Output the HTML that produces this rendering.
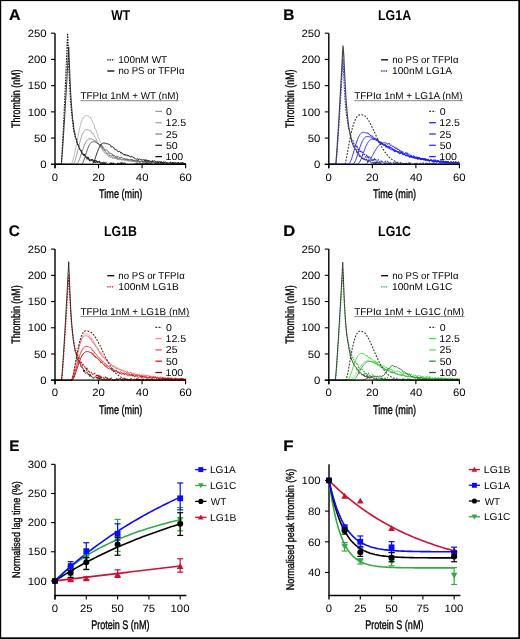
<!DOCTYPE html>
<html><head><meta charset="utf-8"><style>
html,body{margin:0;padding:0;background:#fff;}
svg{display:block;will-change:transform;}
text{font-family:"Liberation Sans", sans-serif;text-rendering:geometricPrecision;}
</style></head><body>
<svg width="520" height="639" viewBox="0 0 520 639" font-family="Liberation Sans, sans-serif">
<rect x="0" y="0" width="520" height="639" fill="#fff"/>
<text transform="translate(9.00,20.30) scale(1.0370,1)" font-size="15.4" font-weight="bold" fill="#000" stroke="#000" stroke-width="0.2">A</text>
<text transform="translate(111.20,20.30) scale(0.8569,1)" font-size="14.2" font-weight="bold" fill="#000">WT</text>
<polyline points="55.00,164.30 55.65,164.30 56.31,164.30 56.96,164.30 57.61,164.30 58.27,164.30 58.92,164.30 59.57,164.30 60.22,164.30 60.88,164.30 61.53,164.30 62.18,164.30 62.84,164.30 63.49,164.30 64.14,164.30 64.80,164.30 65.45,164.30 66.10,164.30 66.75,164.30 67.41,164.30 68.06,164.30 68.71,164.30 69.37,164.30 70.02,164.30 70.67,164.17 71.33,163.68 71.98,162.69 72.63,161.16 73.28,159.12 73.94,156.63 74.59,153.75 75.24,150.59 75.90,147.25 76.55,143.81 77.20,140.36 77.86,136.98 78.51,133.73 79.16,130.68 79.81,127.85 80.47,125.29 81.12,123.01 81.77,121.04 82.43,119.38 83.08,118.03 83.73,116.98 84.39,116.22 85.04,115.75 85.69,115.54 85.91,115.53 86.34,115.54 87.00,115.60 87.65,115.73 88.30,115.98 88.96,116.37 89.61,117.53 90.26,117.06 90.91,118.10 91.57,120.02 92.22,120.85 92.87,122.31 93.53,123.48 94.18,124.87 94.83,127.73 95.49,129.61 96.14,130.06 96.79,132.56 97.44,133.82 98.10,136.90 98.75,137.93 99.40,139.18 100.06,141.66 100.71,142.04 101.36,143.62 102.02,146.50 102.67,147.83 103.32,148.20 103.97,148.68 104.63,150.68 105.28,151.92 105.93,152.46 106.59,153.92 107.24,154.33 107.89,154.62 108.55,155.12 109.20,156.09 109.85,156.58 110.50,157.02 111.16,157.00 111.81,157.63 112.46,158.39 113.12,157.30 113.77,158.03 114.42,158.11 115.08,159.08 115.73,157.92 116.38,158.31 117.03,159.71 117.69,159.50 118.34,158.99 118.99,159.13 119.65,158.88 120.30,159.86 120.95,159.28 121.61,159.65 122.26,160.37 122.91,159.99 123.56,159.59 124.22,159.74 124.87,160.40 125.52,160.34 126.18,161.35 126.83,161.08 127.48,160.23 128.14,160.95 128.79,161.43 129.44,160.87 130.09,160.68 130.75,160.80 131.40,161.37 132.05,161.33 132.71,161.28 133.36,160.89 134.01,161.38 134.67,161.66 135.32,161.56 135.97,162.39 136.62,162.42 137.28,161.37 137.93,160.95 138.58,161.66 139.24,162.05 139.89,162.47 140.54,161.97 141.20,161.21 141.85,161.62 142.50,162.05 143.16,161.56 143.81,162.66 144.46,162.23 145.11,161.54 145.77,162.21 146.42,162.45 147.07,162.81 147.73,162.38 148.38,161.73 149.03,163.37 149.69,162.10 150.34,162.07 150.99,162.00 151.64,162.28 152.30,162.20 152.95,162.72 153.60,162.68 154.26,162.94 154.91,163.59 155.56,162.26 156.22,162.79 156.87,163.44 157.52,162.96 158.17,163.02 158.83,163.26 159.48,163.31 160.13,163.01 160.79,162.89 161.44,162.94 162.09,163.22 162.75,163.97 163.40,163.65 164.05,163.76 164.70,163.10 165.36,162.66 166.01,162.79 166.66,162.81 167.32,162.80 167.97,163.76 168.62,162.80 169.28,163.10 169.93,164.11 170.58,164.24 171.23,164.26 171.89,163.04 172.54,163.90 173.19,164.16 173.85,163.31 174.50,163.80 175.15,164.27 175.81,164.14 176.46,163.54 177.11,164.15 177.76,163.99 178.42,163.27 179.07,163.72 179.72,163.95 180.38,163.71 181.03,164.30 181.68,163.89 182.34,163.84 182.99,164.24 183.64,164.30 184.29,163.07 184.95,163.74 185.60,164.26" fill="none" stroke="#b0b0b0" stroke-width="0.9" stroke-linejoin="round" />
<polyline points="55.00,164.30 55.65,164.30 56.31,164.30 56.96,164.30 57.61,164.30 58.27,164.30 58.92,164.30 59.57,164.30 60.22,164.30 60.88,164.30 61.53,164.30 62.18,164.30 62.84,164.30 63.49,164.30 64.14,164.30 64.80,164.30 65.45,164.30 66.10,164.30 66.75,164.30 67.41,164.30 68.06,164.30 68.71,164.30 69.37,164.30 70.02,164.30 70.67,164.30 71.33,164.30 71.98,164.30 72.63,164.24 73.28,163.90 73.94,163.13 74.59,161.88 75.24,160.17 75.90,158.08 76.55,155.68 77.20,153.07 77.86,150.35 78.51,147.60 79.16,144.91 79.81,142.34 80.47,139.94 81.12,137.75 81.77,135.81 82.43,134.13 83.08,132.72 83.73,131.59 84.39,130.74 85.04,130.14 85.69,129.80 86.34,129.69 86.34,129.69 87.00,129.71 87.65,129.78 88.30,129.92 88.96,130.14 89.61,130.47 90.26,130.14 90.91,130.70 91.57,132.85 92.22,133.57 92.87,133.17 93.53,134.29 94.18,135.42 94.83,137.12 95.49,137.75 96.14,138.92 96.79,140.15 97.44,142.05 98.10,142.79 98.75,144.02 99.40,144.62 100.06,145.27 100.71,146.42 101.36,148.12 102.02,149.26 102.67,150.48 103.32,151.73 103.97,152.54 104.63,152.56 105.28,153.49 105.93,154.03 106.59,153.75 107.24,154.90 107.89,155.33 108.55,156.32 109.20,157.08 109.85,156.94 110.50,157.59 111.16,157.27 111.81,156.73 112.46,157.52 113.12,158.58 113.77,157.60 114.42,157.95 115.08,158.24 115.73,158.12 116.38,158.51 117.03,158.61 117.69,159.48 118.34,158.55 118.99,158.71 119.65,160.17 120.30,159.28 120.95,159.45 121.61,159.98 122.26,159.96 122.91,160.13 123.56,159.49 124.22,160.29 124.87,159.82 125.52,160.71 126.18,159.90 126.83,159.95 127.48,160.77 128.14,160.66 128.79,160.15 129.44,160.55 130.09,161.02 130.75,161.53 131.40,161.43 132.05,160.87 132.71,161.83 133.36,160.65 134.01,161.78 134.67,160.77 135.32,161.84 135.97,160.81 136.62,161.29 137.28,161.68 137.93,161.71 138.58,161.54 139.24,161.70 139.89,162.22 140.54,162.44 141.20,161.98 141.85,161.32 142.50,161.89 143.16,162.86 143.81,161.65 144.46,161.86 145.11,161.60 145.77,162.84 146.42,161.95 147.07,163.15 147.73,162.19 148.38,162.87 149.03,162.98 149.69,161.93 150.34,163.26 150.99,162.60 151.64,162.07 152.30,163.13 152.95,163.22 153.60,162.13 154.26,162.93 154.91,162.47 155.56,163.65 156.22,163.13 156.87,163.48 157.52,162.66 158.17,163.68 158.83,162.25 159.48,163.83 160.13,162.68 160.79,163.89 161.44,163.53 162.09,162.62 162.75,163.74 163.40,163.72 164.05,162.89 164.70,163.43 165.36,164.03 166.01,162.46 166.66,163.89 167.32,164.10 167.97,163.61 168.62,163.17 169.28,162.98 169.93,164.05 170.58,163.70 171.23,164.23 171.89,163.55 172.54,163.03 173.19,163.09 173.85,162.84 174.50,163.10 175.15,162.94 175.81,163.22 176.46,163.62 177.11,164.05 177.76,163.34 178.42,163.93 179.07,164.30 179.72,163.74 180.38,163.03 181.03,164.30 181.68,163.55 182.34,163.88 182.99,163.69 183.64,164.30 184.29,162.97 184.95,164.16 185.60,163.59" fill="none" stroke="#9a9a9a" stroke-width="0.9" stroke-linejoin="round" />
<polyline points="55.00,164.30 55.65,164.30 56.31,164.30 56.96,164.30 57.61,164.30 58.27,164.30 58.92,164.30 59.57,164.30 60.22,164.30 60.88,164.30 61.53,164.30 62.18,164.30 62.84,164.30 63.49,164.30 64.14,164.30 64.80,164.30 65.45,164.30 66.10,164.30 66.75,164.30 67.41,164.30 68.06,164.30 68.71,164.30 69.37,164.30 70.02,164.30 70.67,164.30 71.33,164.30 71.98,164.30 72.63,164.30 73.28,164.30 73.94,164.30 74.59,164.30 75.24,164.30 75.90,164.26 76.55,164.02 77.20,163.47 77.86,162.59 78.51,161.37 79.16,159.88 79.81,158.16 80.47,156.28 81.12,154.32 81.77,152.33 82.43,150.37 83.08,148.49 83.73,146.73 84.39,145.11 85.04,143.66 85.69,142.40 86.34,141.34 87.00,140.47 87.65,139.79 88.30,139.31 88.96,139.01 89.61,138.88 89.83,138.87 90.26,138.88 90.91,138.93 91.57,139.03 92.22,139.19 92.87,139.42 93.53,140.16 94.18,140.01 94.83,140.74 95.49,140.85 96.14,141.38 96.79,142.93 97.44,143.68 98.10,143.00 98.75,144.69 99.40,145.48 100.06,144.97 100.71,146.62 101.36,146.77 102.02,148.13 102.67,148.60 103.32,150.14 103.97,150.03 104.63,150.31 105.28,151.53 105.93,151.78 106.59,152.47 107.24,154.03 107.89,153.38 108.55,154.14 109.20,155.07 109.85,155.93 110.50,154.92 111.16,155.93 111.81,155.85 112.46,155.88 113.12,156.44 113.77,156.35 114.42,157.47 115.08,157.02 115.73,157.82 116.38,157.19 117.03,157.47 117.69,158.95 118.34,159.05 118.99,159.06 119.65,157.95 120.30,158.97 120.95,158.78 121.61,159.46 122.26,159.23 122.91,159.55 123.56,159.72 124.22,159.43 124.87,159.54 125.52,159.10 126.18,159.57 126.83,159.25 127.48,159.47 128.14,159.33 128.79,159.96 129.44,160.90 130.09,159.81 130.75,159.72 131.40,159.90 132.05,160.54 132.71,160.37 133.36,161.29 134.01,160.33 134.67,160.83 135.32,161.39 135.97,161.83 136.62,160.57 137.28,160.41 137.93,161.98 138.58,160.85 139.24,161.57 139.89,162.07 140.54,161.89 141.20,161.15 141.85,161.03 142.50,162.48 143.16,161.57 143.81,162.58 144.46,161.51 145.11,162.21 145.77,161.33 146.42,161.22 147.07,162.06 147.73,161.28 148.38,162.48 149.03,162.92 149.69,162.09 150.34,163.08 150.99,162.85 151.64,162.53 152.30,162.24 152.95,163.04 153.60,163.27 154.26,161.92 154.91,162.89 155.56,161.84 156.22,161.98 156.87,162.89 157.52,162.78 158.17,162.72 158.83,162.54 159.48,162.65 160.13,162.75 160.79,162.68 161.44,162.17 162.09,162.92 162.75,163.08 163.40,162.62 164.05,163.46 164.70,163.38 165.36,162.27 166.01,163.07 166.66,163.04 167.32,163.97 167.97,163.32 168.62,163.06 169.28,164.03 169.93,163.05 170.58,163.05 171.23,164.03 171.89,163.10 172.54,163.39 173.19,163.05 173.85,163.62 174.50,163.04 175.15,163.01 175.81,164.23 176.46,164.19 177.11,163.17 177.76,162.71 178.42,163.92 179.07,163.59 179.72,163.38 180.38,163.85 181.03,163.80 181.68,163.90 182.34,163.82 182.99,163.45 183.64,163.96 184.29,163.85 184.95,163.20 185.60,164.30" fill="none" stroke="#7a7a7a" stroke-width="0.9" stroke-linejoin="round" />
<polyline points="55.00,164.30 55.65,164.30 56.31,164.30 56.96,164.30 57.61,164.30 58.27,164.30 58.92,164.30 59.57,164.30 60.22,164.30 60.88,164.30 61.53,164.30 62.18,164.30 62.84,164.30 63.49,164.30 64.14,164.30 64.80,164.30 65.45,164.30 66.10,164.30 66.75,164.30 67.41,164.30 68.06,164.30 68.71,164.30 69.37,164.30 70.02,164.30 70.67,164.30 71.33,164.30 71.98,164.30 72.63,164.30 73.28,164.30 73.94,164.30 74.59,164.30 75.24,164.30 75.90,164.30 76.55,164.30 77.20,164.30 77.86,164.30 78.51,164.30 79.16,164.30 79.81,164.30 80.47,164.30 81.12,164.30 81.77,164.13 82.43,163.48 83.08,162.32 83.73,160.76 84.39,158.90 85.04,156.87 85.69,154.77 86.34,152.69 87.00,150.71 87.65,148.86 88.30,147.21 88.96,145.76 89.61,144.54 90.26,143.55 90.91,142.79 91.57,142.24 92.22,141.91 92.87,141.76 93.09,141.75 93.53,141.76 94.18,141.81 94.83,141.92 95.49,142.07 96.14,142.28 96.79,143.00 97.44,143.54 98.10,143.43 98.75,144.26 99.40,144.87 100.06,144.82 100.71,144.49 101.36,145.26 102.02,145.91 102.67,147.42 103.32,147.50 103.97,148.56 104.63,149.34 105.28,150.06 105.93,150.47 106.59,149.86 107.24,150.59 107.89,151.16 108.55,151.69 109.20,153.21 109.85,153.49 110.50,153.40 111.16,153.64 111.81,153.84 112.46,154.17 113.12,155.85 113.77,155.30 114.42,155.50 115.08,156.06 115.73,156.88 116.38,156.63 117.03,157.51 117.69,156.31 118.34,156.63 118.99,157.36 119.65,157.96 120.30,157.11 120.95,157.84 121.61,157.48 122.26,157.69 122.91,158.40 123.56,158.70 124.22,158.52 124.87,158.93 125.52,159.50 126.18,159.38 126.83,158.64 127.48,160.05 128.14,160.15 128.79,159.28 129.44,159.97 130.09,159.64 130.75,159.85 131.40,160.16 132.05,159.15 132.71,160.59 133.36,160.31 134.01,160.75 134.67,160.12 135.32,160.80 135.97,160.75 136.62,160.17 137.28,160.97 137.93,160.64 138.58,160.14 139.24,161.56 139.89,161.70 140.54,161.49 141.20,160.66 141.85,160.98 142.50,161.68 143.16,161.58 143.81,161.90 144.46,161.49 145.11,162.25 145.77,161.21 146.42,160.94 147.07,160.90 147.73,161.32 148.38,161.00 149.03,162.63 149.69,162.23 150.34,161.15 150.99,161.52 151.64,162.18 152.30,161.33 152.95,161.92 153.60,161.63 154.26,162.56 154.91,162.78 155.56,162.39 156.22,162.95 156.87,162.58 157.52,161.65 158.17,162.75 158.83,163.33 159.48,163.31 160.13,163.13 160.79,162.14 161.44,162.88 162.09,163.04 162.75,163.40 163.40,161.94 164.05,162.91 164.70,163.31 165.36,163.59 166.01,163.63 166.66,163.47 167.32,162.64 167.97,163.56 168.62,163.77 169.28,163.04 169.93,163.47 170.58,162.24 171.23,163.74 171.89,163.08 172.54,162.69 173.19,163.33 173.85,162.38 174.50,163.26 175.15,163.68 175.81,163.42 176.46,164.07 177.11,163.45 177.76,163.76 178.42,162.70 179.07,162.82 179.72,163.40 180.38,164.20 181.03,163.84 181.68,163.88 182.34,163.96 182.99,163.94 183.64,162.88 184.29,164.12 184.95,164.29 185.60,162.83" fill="none" stroke="#4a4a4a" stroke-width="0.9" stroke-linejoin="round" />
<polyline points="55.00,164.30 55.65,164.30 56.31,164.30 56.96,164.30 57.61,164.30 58.27,164.30 58.92,164.30 59.57,164.30 60.22,164.30 60.88,164.30 61.53,164.30 62.18,164.30 62.84,164.30 63.49,164.30 64.14,164.30 64.80,164.30 65.45,164.30 66.10,164.30 66.75,164.30 67.41,164.30 68.06,164.30 68.71,164.30 69.37,164.30 70.02,164.30 70.67,164.30 71.33,164.30 71.98,164.30 72.63,164.30 73.28,164.30 73.94,164.30 74.59,164.30 75.24,164.30 75.90,164.30 76.55,164.30 77.20,164.30 77.86,164.30 78.51,164.30 79.16,164.30 79.81,164.30 80.47,164.30 81.12,164.30 81.77,164.30 82.43,164.30 83.08,164.30 83.73,164.30 84.39,164.30 85.04,164.30 85.69,164.30 86.34,164.30 87.00,164.30 87.65,164.30 88.30,164.30 88.96,164.30 89.61,164.30 90.26,164.30 90.91,164.30 91.57,164.30 92.22,164.15 92.87,163.56 93.53,162.51 94.18,161.08 94.83,159.38 95.49,157.51 96.14,155.57 96.79,153.64 97.44,151.79 98.10,150.06 98.75,148.49 99.40,147.11 100.06,145.94 100.71,144.97 101.36,144.21 102.02,143.65 102.67,143.29 103.32,143.10 103.76,143.06 103.97,143.07 104.63,143.12 105.28,143.24 105.93,143.43 106.59,143.67 107.24,143.75 107.89,143.88 108.55,144.16 109.20,144.30 109.85,145.05 110.50,145.17 111.16,147.11 111.81,146.82 112.46,146.47 113.12,147.41 113.77,147.44 114.42,149.21 115.08,149.05 115.73,149.86 116.38,149.79 117.03,150.16 117.69,151.52 118.34,151.58 118.99,151.87 119.65,151.18 120.30,151.81 120.95,153.19 121.61,152.47 122.26,153.92 122.91,153.44 123.56,154.59 124.22,155.11 124.87,153.95 125.52,155.35 126.18,155.62 126.83,154.60 127.48,155.04 128.14,156.27 128.79,155.39 129.44,156.33 130.09,156.32 130.75,157.34 131.40,156.31 132.05,156.94 132.71,156.67 133.36,156.98 134.01,158.16 134.67,158.23 135.32,158.73 135.97,158.93 136.62,159.23 137.28,158.99 137.93,158.63 138.58,159.78 139.24,158.79 139.89,159.50 140.54,159.68 141.20,158.95 141.85,159.64 142.50,160.04 143.16,159.88 143.81,159.62 144.46,160.82 145.11,159.38 145.77,161.09 146.42,159.97 147.07,159.91 147.73,161.39 148.38,160.19 149.03,160.99 149.69,160.72 150.34,161.76 150.99,161.78 151.64,161.64 152.30,160.42 152.95,161.77 153.60,160.91 154.26,160.69 154.91,160.74 155.56,161.81 156.22,161.86 156.87,161.65 157.52,161.29 158.17,162.47 158.83,161.46 159.48,161.44 160.13,161.39 160.79,162.83 161.44,161.36 162.09,162.85 162.75,162.48 163.40,162.08 164.05,161.61 164.70,162.63 165.36,161.70 166.01,162.38 166.66,162.82 167.32,162.86 167.97,163.13 168.62,163.34 169.28,163.26 169.93,162.40 170.58,161.92 171.23,163.36 171.89,163.59 172.54,162.05 173.19,162.84 173.85,163.09 174.50,163.41 175.15,162.84 175.81,162.49 176.46,163.14 177.11,163.23 177.76,163.87 178.42,162.46 179.07,163.97 179.72,163.22 180.38,162.67 181.03,163.88 181.68,162.90 182.34,162.56 182.99,163.12 183.64,162.88 184.29,164.04 184.95,163.52 185.60,164.02" fill="none" stroke="#111" stroke-width="0.9" stroke-linejoin="round" />
<polyline points="55.00,164.30 55.65,164.30 56.31,164.30 56.96,164.30 57.61,164.30 58.27,164.30 58.92,164.30 59.57,164.30 60.22,164.30 60.88,164.30 61.53,161.57 62.18,150.87 62.84,138.73 63.49,125.77 64.14,112.19 64.80,98.14 65.45,83.69 66.10,68.88 66.75,53.77 67.41,38.39 67.62,33.20 68.06,43.38 68.71,63.19 69.37,79.27 70.02,92.00 70.67,102.13 71.33,109.35 71.98,115.86 72.63,122.36 73.28,127.58 73.94,132.21 74.59,133.38 75.24,136.78 75.90,138.32 76.55,141.68 77.20,142.34 77.86,145.62 78.51,145.49 79.16,147.11 79.81,149.36 80.47,150.13 81.12,150.73 81.77,153.24 82.43,152.99 83.08,153.02 83.73,155.48 84.39,154.49 85.04,155.50 85.69,155.60 86.34,157.76 87.00,159.03 87.65,157.28 88.30,157.71 88.96,159.25 89.61,160.73 90.26,160.76 90.91,159.71 91.57,161.09 92.22,159.29 92.87,160.69 93.53,162.15 94.18,160.95 94.83,162.08 95.49,160.47 96.14,160.72 96.79,162.13 97.44,161.88 98.10,161.85 98.75,161.64 99.40,161.23 100.06,164.30 100.71,163.38 101.36,162.72 102.02,163.75 102.67,162.94 103.32,164.30 103.97,162.17 104.63,163.36 105.28,164.30 105.93,163.05 106.59,164.20 107.24,164.30 107.89,163.76 108.55,164.30 109.20,164.30 109.85,162.68 110.50,163.24 111.16,164.30 111.81,163.05 112.46,164.30 113.12,164.30 113.77,162.73 114.42,163.64 115.08,164.30 115.73,164.30 116.38,164.30 117.03,164.30 117.69,162.53 118.34,164.30 118.99,164.30 119.65,163.37 120.30,164.30 120.95,162.65 121.61,164.30 122.26,162.68 122.91,162.96 123.56,163.67 124.22,162.98 124.87,164.30 125.52,163.18 126.18,163.30 126.83,164.18 127.48,164.30 128.14,163.59 128.79,164.30 129.44,164.30 130.09,163.48 130.75,164.30 131.40,164.30 132.05,163.37 132.71,164.30 133.36,164.30 134.01,164.30 134.67,163.99 135.32,164.30 135.97,164.30 136.62,164.30 137.28,162.93 137.93,164.30 138.58,164.30 139.24,163.09 139.89,163.93 140.54,164.30 141.20,164.30 141.85,164.30 142.50,164.30 143.16,164.30 143.81,164.30 144.46,163.33 145.11,164.30 145.77,163.79 146.42,162.81 147.07,162.96 147.73,164.30 148.38,163.97 149.03,164.30 149.69,164.30 150.34,164.30 150.99,163.37 151.64,162.92 152.30,164.30 152.95,164.30 153.60,164.30 154.26,164.30 154.91,164.30 155.56,163.44 156.22,164.30 156.87,163.61 157.52,164.30 158.17,162.92 158.83,163.19 159.48,164.30 160.13,164.30 160.79,162.89 161.44,163.94 162.09,164.30 162.75,163.41 163.40,163.31 164.05,164.30 164.70,164.30 165.36,164.30 166.01,164.30 166.66,164.30 167.32,163.90 167.97,163.96 168.62,164.30 169.28,163.90 169.93,164.30 170.58,164.30 171.23,163.84 171.89,164.30 172.54,163.04 173.19,163.89 173.85,163.67 174.50,164.30 175.15,163.25 175.81,164.30 176.46,163.93 177.11,163.01 177.76,163.02 178.42,163.06 179.07,164.30 179.72,163.69 180.38,163.38 181.03,164.30 181.68,162.90 182.34,163.01 182.99,164.30 183.64,163.42 184.29,164.30 184.95,164.30 185.60,163.63" fill="none" stroke="#111" stroke-width="1.1" stroke-linejoin="round" stroke-dasharray="1.6,1.1"/>
<polyline points="55.00,164.30 55.65,164.30 56.31,164.30 56.96,164.30 57.61,164.30 58.27,164.30 58.92,164.30 59.57,164.30 60.22,164.30 60.88,164.30 61.53,162.26 62.18,154.28 62.84,145.22 63.49,135.55 64.14,125.42 64.80,114.93 65.45,104.14 66.10,93.10 66.75,81.82 67.41,70.34 68.06,58.67 68.71,46.83 69.37,62.18 70.02,78.89 70.67,92.21 71.33,102.77 71.98,111.20 72.63,118.74 73.28,122.27 73.94,129.13 74.59,131.37 75.24,136.29 75.90,138.62 76.55,138.96 77.20,143.21 77.86,143.88 78.51,146.03 79.16,147.52 79.81,148.74 80.47,150.77 81.12,150.13 81.77,153.15 82.43,153.68 83.08,155.11 83.73,155.21 84.39,155.54 85.04,154.85 85.69,156.89 86.34,158.18 87.00,158.31 87.65,156.79 88.30,159.77 88.96,158.67 89.61,159.71 90.26,159.30 90.91,160.51 91.57,159.85 92.22,160.66 92.87,160.51 93.53,160.07 94.18,161.17 94.83,162.58 95.49,162.98 96.14,160.76 96.79,162.18 97.44,163.14 98.10,161.23 98.75,162.36 99.40,162.08 100.06,161.78 100.71,163.51 101.36,163.42 102.02,162.09 102.67,164.20 103.32,162.56 103.97,164.30 104.63,162.91 105.28,162.94 105.93,162.32 106.59,162.66 107.24,163.64 107.89,164.30 108.55,164.30 109.20,163.70 109.85,163.79 110.50,164.30 111.16,162.79 111.81,163.90 112.46,163.39 113.12,164.30 113.77,164.30 114.42,164.30 115.08,164.30 115.73,164.30 116.38,164.28 117.03,164.30 117.69,163.19 118.34,163.05 118.99,164.30 119.65,164.30 120.30,164.30 120.95,163.72 121.61,162.88 122.26,164.30 122.91,163.47 123.56,164.30 124.22,164.30 124.87,163.49 125.52,164.30 126.18,164.30 126.83,164.30 127.48,164.30 128.14,164.30 128.79,164.30 129.44,164.30 130.09,164.01 130.75,164.30 131.40,164.30 132.05,164.30 132.71,164.30 133.36,164.21 134.01,164.30 134.67,163.43 135.32,164.26 135.97,163.71 136.62,162.97 137.28,164.30 137.93,164.30 138.58,164.30 139.24,164.30 139.89,164.08 140.54,163.62 141.20,164.30 141.85,163.02 142.50,164.30 143.16,163.37 143.81,164.30 144.46,163.27 145.11,164.30 145.77,163.02 146.42,163.59 147.07,162.96 147.73,164.08 148.38,164.30 149.03,163.01 149.69,164.30 150.34,164.30 150.99,164.01 151.64,164.30 152.30,164.30 152.95,164.30 153.60,164.30 154.26,164.08 154.91,164.30 155.56,164.30 156.22,164.30 156.87,163.68 157.52,163.71 158.17,164.30 158.83,164.30 159.48,164.30 160.13,164.30 160.79,164.30 161.44,164.30 162.09,164.30 162.75,163.68 163.40,163.73 164.05,163.99 164.70,164.30 165.36,164.30 166.01,164.30 166.66,164.30 167.32,163.02 167.97,163.60 168.62,164.29 169.28,163.74 169.93,164.30 170.58,164.30 171.23,164.23 171.89,163.63 172.54,163.90 173.19,164.30 173.85,163.99 174.50,163.18 175.15,163.64 175.81,163.13 176.46,162.99 177.11,164.30 177.76,164.30 178.42,164.17 179.07,163.00 179.72,164.30 180.38,163.10 181.03,163.34 181.68,164.26 182.34,163.96 182.99,163.05 183.64,163.53 184.29,164.30 184.95,163.36 185.60,164.30" fill="none" stroke="#222" stroke-width="0.9" stroke-linejoin="round" />
<line x1="55.00" y1="33.20" x2="55.00" y2="168.30" stroke="#000" stroke-width="1.4" />
<line x1="51.00" y1="164.30" x2="186.10" y2="164.30" stroke="#000" stroke-width="1.3" />
<line x1="51.00" y1="164.30" x2="55.00" y2="164.30" stroke="#000" stroke-width="1.1" />
<text transform="translate(40.30,168.00) scale(1.0700,1)" font-size="10.6" font-weight="normal" fill="#000">0</text>
<line x1="51.00" y1="138.08" x2="55.00" y2="138.08" stroke="#000" stroke-width="1.1" />
<text transform="translate(34.01,141.78) scale(1.0700,1)" font-size="10.6" font-weight="normal" fill="#000">50</text>
<line x1="51.00" y1="111.86" x2="55.00" y2="111.86" stroke="#000" stroke-width="1.1" />
<text transform="translate(27.71,115.56) scale(1.0700,1)" font-size="10.6" font-weight="normal" fill="#000">100</text>
<line x1="51.00" y1="85.64" x2="55.00" y2="85.64" stroke="#000" stroke-width="1.1" />
<text transform="translate(27.71,89.34) scale(1.0700,1)" font-size="10.6" font-weight="normal" fill="#000">150</text>
<line x1="51.00" y1="59.42" x2="55.00" y2="59.42" stroke="#000" stroke-width="1.1" />
<text transform="translate(27.71,63.12) scale(1.0700,1)" font-size="10.6" font-weight="normal" fill="#000">200</text>
<line x1="51.00" y1="33.20" x2="55.00" y2="33.20" stroke="#000" stroke-width="1.1" />
<text transform="translate(27.71,36.90) scale(1.0700,1)" font-size="10.6" font-weight="normal" fill="#000">250</text>
<line x1="55.00" y1="164.30" x2="55.00" y2="168.30" stroke="#000" stroke-width="1.1" />
<text transform="translate(51.82,180.50) scale(1.0700,1)" font-size="10.6" font-weight="normal" fill="#000">0</text>
<line x1="98.53" y1="164.30" x2="98.53" y2="168.30" stroke="#000" stroke-width="1.1" />
<text transform="translate(92.15,180.50) scale(1.0700,1)" font-size="10.6" font-weight="normal" fill="#000">20</text>
<line x1="142.07" y1="164.30" x2="142.07" y2="168.30" stroke="#000" stroke-width="1.1" />
<text transform="translate(135.86,180.50) scale(1.0700,1)" font-size="10.6" font-weight="normal" fill="#000">40</text>
<line x1="185.60" y1="164.30" x2="185.60" y2="168.30" stroke="#000" stroke-width="1.1" />
<text transform="translate(179.22,180.50) scale(1.0700,1)" font-size="10.6" font-weight="normal" fill="#000">60</text>
<text transform="translate(99.12,198.10) scale(0.7229,1)" font-size="12.6" font-weight="normal" fill="#000" stroke="#000" stroke-width="0.35">Time (min)</text>
<text transform="translate(20.10,127.88) rotate(-90) scale(0.7317,1)" font-size="12.2" font-weight="normal" fill="#000" stroke="#000" stroke-width="0.35">Thrombin (nM)</text>
<line x1="107.30" y1="59.80" x2="114.30" y2="59.80" stroke="#000" stroke-width="1.3" stroke-dasharray="1.3,1"/>
<text transform="translate(118.25,63.10) scale(1.0010,1)" font-size="10.0" font-weight="normal" fill="#000">100nM WT</text>
<line x1="107.30" y1="71.00" x2="114.30" y2="71.00" stroke="#000" stroke-width="1.3" />
<text transform="translate(118.38,74.30) scale(0.9596,1)" font-size="10.0" font-weight="normal" fill="#000">no PS or TFPIα</text>
<text transform="translate(80.40,99.10) scale(0.9864,1)" font-size="10.0" font-weight="normal" fill="#000">TFPIα 1nM + WT (nM)</text>
<line x1="80.40" y1="100.70" x2="178.60" y2="100.70" stroke="#888" stroke-width="1.0" />
<line x1="155.40" y1="111.40" x2="162.00" y2="111.40" stroke="#999" stroke-width="1.3" />
<text transform="translate(165.88,114.90) scale(1.0600,1)" font-size="10.0" font-weight="normal" fill="#000">0</text>
<line x1="155.40" y1="122.70" x2="162.00" y2="122.70" stroke="#aaa" stroke-width="1.3" />
<text transform="translate(165.51,126.20) scale(1.0600,1)" font-size="10.0" font-weight="normal" fill="#000">12.5</text>
<line x1="155.40" y1="134.00" x2="162.00" y2="134.00" stroke="#888" stroke-width="1.3" />
<text transform="translate(165.77,137.50) scale(1.0600,1)" font-size="10.0" font-weight="normal" fill="#000">25</text>
<line x1="155.40" y1="145.30" x2="162.00" y2="145.30" stroke="#333" stroke-width="1.3" />
<text transform="translate(165.88,148.80) scale(1.0600,1)" font-size="10.0" font-weight="normal" fill="#000">50</text>
<line x1="155.40" y1="156.60" x2="162.00" y2="156.60" stroke="#111" stroke-width="1.3" />
<text transform="translate(165.51,160.10) scale(1.0600,1)" font-size="10.0" font-weight="normal" fill="#000">100</text>
<text transform="translate(283.30,20.30) scale(1.0006,1)" font-size="15.4" font-weight="bold" fill="#000" stroke="#000" stroke-width="0.2">B</text>
<text transform="translate(377.99,20.30) scale(0.8752,1)" font-size="14.2" font-weight="bold" fill="#000">LG1A</text>
<polyline points="328.80,164.30 329.45,164.30 330.11,164.30 330.76,164.30 331.41,164.30 332.06,164.30 332.72,164.30 333.37,164.30 334.02,164.30 334.68,164.30 335.33,164.30 335.98,164.30 336.64,164.30 337.29,164.30 337.94,164.30 338.60,164.30 339.25,164.30 339.90,164.30 340.55,164.30 341.21,164.30 341.86,164.30 342.51,164.30 343.17,164.30 343.82,164.30 344.47,164.30 345.12,164.30 345.78,164.30 346.43,164.30 347.08,164.30 347.74,164.29 348.39,164.13 349.04,163.69 349.70,162.90 350.35,161.75 351.00,160.27 351.66,158.49 352.31,156.49 352.96,154.33 353.61,152.07 354.27,149.77 354.92,147.49 355.57,145.29 356.23,143.19 356.88,141.23 357.53,139.45 358.19,137.85 358.84,136.45 359.49,135.26 360.14,134.28 360.80,133.50 361.45,132.93 362.10,132.55 362.76,132.35 363.19,132.31 363.41,132.31 364.06,132.36 364.72,132.46 365.37,132.61 366.02,132.81 366.67,133.17 367.33,133.21 367.98,132.69 368.63,134.11 369.29,134.39 369.94,134.62 370.59,135.97 371.25,135.66 371.90,135.84 372.55,135.93 373.20,138.01 373.86,138.00 374.51,138.97 375.16,137.80 375.82,138.55 376.47,140.53 377.12,138.84 377.78,139.35 378.43,140.54 379.08,141.10 379.73,142.61 380.39,143.40 381.04,142.67 381.69,144.19 382.35,144.33 383.00,144.64 383.65,145.55 384.31,144.97 384.96,145.43 385.61,144.91 386.26,146.05 386.92,146.16 387.57,146.87 388.22,146.87 388.88,147.71 389.53,148.49 390.18,147.18 390.84,147.53 391.49,148.23 392.14,148.87 392.79,150.10 393.45,150.62 394.10,150.80 394.75,151.61 395.41,150.31 396.06,151.44 396.71,150.70 397.37,152.05 398.02,151.01 398.67,151.53 399.32,153.75 399.98,153.53 400.63,152.17 401.28,153.43 401.94,152.50 402.59,154.08 403.24,155.06 403.89,154.01 404.55,153.89 405.20,155.28 405.85,155.91 406.51,155.56 407.16,154.30 407.81,154.98 408.47,156.65 409.12,156.55 409.77,157.07 410.43,157.35 411.08,155.82 411.73,157.43 412.38,156.72 413.04,157.14 413.69,157.90 414.34,156.81 415.00,158.35 415.65,157.32 416.30,158.69 416.96,158.13 417.61,158.76 418.26,158.76 418.91,157.28 419.57,157.80 420.22,159.09 420.87,157.87 421.53,159.56 422.18,159.25 422.83,158.31 423.49,158.92 424.14,160.28 424.79,158.34 425.44,160.24 426.10,160.25 426.75,159.16 427.40,160.29 428.06,160.46 428.71,161.07 429.36,161.13 430.01,160.09 430.67,160.96 431.32,160.23 431.97,160.84 432.63,160.74 433.28,159.65 433.93,160.83 434.59,160.70 435.24,160.11 435.89,161.76 436.55,161.90 437.20,160.23 437.85,160.51 438.50,161.89 439.16,162.10 439.81,160.90 440.46,160.50 441.12,162.28 441.77,160.60 442.42,160.82 443.08,161.52 443.73,162.00 444.38,162.79 445.03,162.99 445.69,160.91 446.34,162.64 446.99,161.61 447.65,162.70 448.30,161.44 448.95,162.01 449.61,162.76 450.26,163.07 450.91,161.86 451.56,163.41 452.22,163.08 452.87,162.36 453.52,161.73 454.18,162.32 454.83,163.13 455.48,161.69 456.13,163.38 456.79,163.85 457.44,163.30 458.09,162.93 458.75,163.85 459.40,163.61" fill="none" stroke="#1a1aff" stroke-width="0.9" stroke-linejoin="round" />
<polyline points="328.80,164.30 329.45,164.30 330.11,164.30 330.76,164.30 331.41,164.30 332.06,164.30 332.72,164.30 333.37,164.30 334.02,164.30 334.68,164.30 335.33,164.30 335.98,164.30 336.64,164.30 337.29,164.30 337.94,164.30 338.60,164.30 339.25,164.30 339.90,164.30 340.55,164.30 341.21,164.30 341.86,164.30 342.51,164.30 343.17,164.30 343.82,164.30 344.47,164.30 345.12,164.30 345.78,164.30 346.43,164.30 347.08,164.30 347.74,164.30 348.39,164.30 349.04,164.30 349.70,164.30 350.35,164.30 351.00,164.30 351.66,164.30 352.31,164.29 352.96,164.14 353.61,163.71 354.27,162.95 354.92,161.85 355.57,160.44 356.23,158.77 356.88,156.91 357.53,154.91 358.19,152.85 358.84,150.77 359.49,148.73 360.14,146.78 360.80,144.95 361.45,143.27 362.10,141.76 362.76,140.43 363.41,139.30 364.06,138.37 364.72,137.64 365.37,137.09 366.02,136.73 366.67,136.54 367.11,136.51 367.33,136.51 367.98,136.55 368.63,136.64 369.29,136.77 369.94,136.94 370.59,137.22 371.25,137.04 371.90,137.31 372.55,138.82 373.20,139.46 373.86,138.97 374.51,139.58 375.16,138.72 375.82,139.39 376.47,140.00 377.12,140.51 377.78,140.69 378.43,142.29 379.08,142.03 379.73,143.09 380.39,141.79 381.04,144.16 381.69,142.82 382.35,144.95 383.00,143.94 383.65,145.15 384.31,145.39 384.96,144.77 385.61,147.06 386.26,147.34 386.92,145.74 387.57,147.05 388.22,148.38 388.88,146.67 389.53,147.11 390.18,149.38 390.84,149.00 391.49,150.00 392.14,149.91 392.79,149.52 393.45,150.89 394.10,149.97 394.75,151.76 395.41,151.78 396.06,150.58 396.71,151.82 397.37,152.06 398.02,151.92 398.67,152.47 399.32,152.94 399.98,154.01 400.63,152.66 401.28,152.35 401.94,152.57 402.59,153.53 403.24,154.47 403.89,154.68 404.55,154.14 405.20,154.40 405.85,155.90 406.51,155.83 407.16,155.73 407.81,155.59 408.47,155.09 409.12,156.00 409.77,157.27 410.43,155.62 411.08,156.71 411.73,156.67 412.38,157.53 413.04,157.22 413.69,157.47 414.34,156.75 415.00,158.45 415.65,157.57 416.30,158.57 416.96,157.52 417.61,159.19 418.26,158.77 418.91,158.75 419.57,158.21 420.22,159.69 420.87,158.88 421.53,159.58 422.18,159.53 422.83,159.20 423.49,158.21 424.14,159.42 424.79,158.44 425.44,160.36 426.10,158.72 426.75,160.12 427.40,160.63 428.06,159.43 428.71,159.15 429.36,161.34 430.01,160.83 430.67,159.76 431.32,160.84 431.97,161.15 432.63,161.78 433.28,161.79 433.93,160.53 434.59,159.77 435.24,159.81 435.89,161.03 436.55,162.21 437.20,161.59 437.85,160.59 438.50,160.56 439.16,161.07 439.81,162.08 440.46,161.46 441.12,161.64 441.77,161.35 442.42,162.25 443.08,160.73 443.73,160.91 444.38,162.66 445.03,162.41 445.69,161.13 446.34,162.55 446.99,161.07 447.65,162.11 448.30,161.74 448.95,161.77 449.61,162.94 450.26,162.83 450.91,162.94 451.56,162.00 452.22,162.01 452.87,163.35 453.52,161.65 454.18,162.77 454.83,163.22 455.48,162.81 456.13,161.59 456.79,162.60 457.44,162.48 458.09,161.84 458.75,161.77 459.40,162.27" fill="none" stroke="#1a1aff" stroke-width="0.9" stroke-linejoin="round" />
<polyline points="328.80,164.30 329.45,164.30 330.11,164.30 330.76,164.30 331.41,164.30 332.06,164.30 332.72,164.30 333.37,164.30 334.02,164.30 334.68,164.30 335.33,164.30 335.98,164.30 336.64,164.30 337.29,164.30 337.94,164.30 338.60,164.30 339.25,164.30 339.90,164.30 340.55,164.30 341.21,164.30 341.86,164.30 342.51,164.30 343.17,164.30 343.82,164.30 344.47,164.30 345.12,164.30 345.78,164.30 346.43,164.30 347.08,164.30 347.74,164.30 348.39,164.30 349.04,164.30 349.70,164.30 350.35,164.30 351.00,164.30 351.66,164.30 352.31,164.30 352.96,164.30 353.61,164.30 354.27,164.30 354.92,164.30 355.57,164.30 356.23,164.30 356.88,164.29 357.53,164.17 358.19,163.82 358.84,163.20 359.49,162.29 360.14,161.12 360.80,159.73 361.45,158.16 362.10,156.45 362.76,154.67 363.41,152.87 364.06,151.08 364.72,149.34 365.37,147.69 366.02,146.15 366.67,144.74 367.33,143.49 367.98,142.39 368.63,141.45 369.29,140.68 369.94,140.07 370.59,139.61 371.25,139.31 371.90,139.16 372.33,139.13 372.55,139.13 373.20,139.17 373.86,139.26 374.51,139.39 375.16,139.56 375.82,140.32 376.47,139.58 377.12,139.86 377.78,139.78 378.43,141.64 379.08,141.88 379.73,142.43 380.39,142.63 381.04,141.83 381.69,143.62 382.35,143.09 383.00,144.22 383.65,144.44 384.31,144.53 384.96,143.99 385.61,144.92 386.26,146.69 386.92,146.48 387.57,147.17 388.22,145.89 388.88,146.41 389.53,146.80 390.18,147.12 390.84,147.68 391.49,147.57 392.14,148.28 392.79,149.87 393.45,148.84 394.10,150.01 394.75,149.72 395.41,150.49 396.06,151.11 396.71,151.57 397.37,151.73 398.02,152.29 398.67,153.04 399.32,151.70 399.98,152.03 400.63,151.87 401.28,152.82 401.94,153.39 402.59,153.20 403.24,154.87 403.89,153.86 404.55,154.64 405.20,155.49 405.85,155.66 406.51,155.14 407.16,155.98 407.81,155.72 408.47,155.59 409.12,156.28 409.77,157.09 410.43,156.45 411.08,157.23 411.73,157.41 412.38,157.69 413.04,157.47 413.69,158.32 414.34,157.15 415.00,156.62 415.65,158.08 416.30,157.48 416.96,157.14 417.61,159.34 418.26,159.26 418.91,157.87 419.57,157.93 420.22,158.53 420.87,159.77 421.53,159.31 422.18,158.39 422.83,158.47 423.49,158.78 424.14,160.28 424.79,158.90 425.44,160.11 426.10,159.43 426.75,160.88 427.40,159.06 428.06,160.01 428.71,159.83 429.36,161.11 430.01,160.26 430.67,160.44 431.32,160.51 431.97,161.13 432.63,160.36 433.28,161.34 433.93,161.53 434.59,161.91 435.24,160.79 435.89,162.18 436.55,161.99 437.20,162.43 437.85,161.17 438.50,161.44 439.16,161.54 439.81,162.77 440.46,161.91 441.12,162.19 441.77,162.83 442.42,163.10 443.08,160.86 443.73,162.94 444.38,162.58 445.03,162.70 445.69,162.00 446.34,163.25 446.99,162.39 447.65,162.68 448.30,161.65 448.95,163.61 449.61,162.89 450.26,162.56 450.91,161.51 451.56,162.60 452.22,162.74 452.87,162.33 453.52,163.23 454.18,163.88 454.83,162.83 455.48,161.92 456.13,162.35 456.79,163.50 457.44,162.55 458.09,162.20 458.75,163.59 459.40,162.86" fill="none" stroke="#1a1aff" stroke-width="0.9" stroke-linejoin="round" />
<polyline points="328.80,164.30 329.45,164.30 330.11,164.30 330.76,164.30 331.41,164.30 332.06,164.30 332.72,164.30 333.37,164.30 334.02,164.30 334.68,164.30 335.33,164.30 335.98,164.30 336.64,164.30 337.29,164.30 337.94,164.30 338.60,164.30 339.25,164.30 339.90,164.30 340.55,164.30 341.21,164.30 341.86,164.30 342.51,164.30 343.17,164.30 343.82,164.30 344.47,164.30 345.12,164.30 345.78,164.30 346.43,164.30 347.08,164.30 347.74,164.30 348.39,164.30 349.04,164.30 349.70,164.30 350.35,164.30 351.00,164.30 351.66,164.30 352.31,164.30 352.96,164.30 353.61,164.30 354.27,164.30 354.92,164.30 355.57,164.30 356.23,164.30 356.88,164.30 357.53,164.30 358.19,164.30 358.84,164.30 359.49,164.30 360.14,164.30 360.80,164.30 361.45,164.30 362.10,164.30 362.76,164.30 363.41,164.30 364.06,164.29 364.72,164.24 365.37,164.12 366.02,163.89 366.67,163.55 367.33,163.07 367.98,162.46 368.63,161.72 369.29,160.86 369.94,159.90 370.59,158.85 371.25,157.73 371.90,156.57 372.55,155.37 373.20,154.16 373.86,152.97 374.51,151.79 375.16,150.66 375.82,149.57 376.47,148.55 377.12,147.60 377.78,146.72 378.43,145.93 379.08,145.23 379.73,144.62 380.39,144.10 381.04,143.67 381.69,143.33 382.35,143.07 383.00,142.91 383.65,142.82 384.09,142.80 384.31,142.80 384.96,142.85 385.61,142.96 386.26,143.11 386.92,143.32 387.57,144.47 388.22,143.38 388.88,143.81 389.53,143.48 390.18,145.38 390.84,145.78 391.49,145.06 392.14,145.62 392.79,146.83 393.45,146.34 394.10,147.40 394.75,146.91 395.41,148.82 396.06,148.96 396.71,147.78 397.37,149.40 398.02,150.00 398.67,149.11 399.32,149.86 399.98,151.33 400.63,150.74 401.28,150.82 401.94,152.30 402.59,151.50 403.24,153.04 403.89,152.86 404.55,153.75 405.20,153.76 405.85,152.27 406.51,153.87 407.16,152.79 407.81,154.34 408.47,154.21 409.12,153.85 409.77,154.53 410.43,156.10 411.08,155.24 411.73,155.37 412.38,156.64 413.04,157.06 413.69,155.47 414.34,156.52 415.00,157.46 415.65,157.06 416.30,157.79 416.96,156.64 417.61,157.52 418.26,158.61 418.91,157.14 419.57,158.99 420.22,158.71 420.87,159.46 421.53,157.97 422.18,159.57 422.83,158.77 423.49,159.91 424.14,159.16 424.79,158.82 425.44,159.31 426.10,159.62 426.75,159.68 427.40,159.91 428.06,159.67 428.71,160.94 429.36,160.18 430.01,160.84 430.67,159.50 431.32,159.43 431.97,161.55 432.63,161.47 433.28,160.28 433.93,160.68 434.59,162.04 435.24,160.55 435.89,160.09 436.55,161.37 437.20,161.63 437.85,161.20 438.50,160.42 439.16,162.06 439.81,162.04 440.46,162.38 441.12,161.43 441.77,161.87 442.42,162.43 443.08,162.19 443.73,163.07 444.38,162.49 445.03,161.00 445.69,161.98 446.34,162.73 446.99,161.28 447.65,162.67 448.30,162.97 448.95,163.52 449.61,163.31 450.26,163.24 450.91,163.21 451.56,161.78 452.22,163.22 452.87,163.30 453.52,162.53 454.18,161.84 454.83,163.33 455.48,162.28 456.13,163.23 456.79,162.82 457.44,162.78 458.09,162.01 458.75,162.47 459.40,163.08" fill="none" stroke="#1a1aff" stroke-width="0.9" stroke-linejoin="round" />
<polyline points="328.80,164.30 329.45,164.30 330.11,164.30 330.76,164.30 331.41,164.30 332.06,164.30 332.72,164.30 333.37,164.30 334.02,164.30 334.68,164.30 335.33,164.30 335.98,164.30 336.64,164.30 337.29,164.30 337.94,164.30 338.60,164.30 339.25,164.30 339.90,164.30 340.55,164.30 341.21,164.30 341.86,164.30 342.51,164.30 343.17,164.30 343.82,164.30 344.47,164.30 345.12,163.94 345.78,161.57 346.43,158.37 347.08,154.80 347.74,151.08 348.39,147.36 349.04,143.72 349.70,140.23 350.35,136.94 351.00,133.86 351.66,131.01 352.31,128.42 352.96,126.06 353.61,123.96 354.27,122.10 354.92,120.47 355.57,119.08 356.23,117.90 356.88,116.92 357.53,116.15 358.19,115.55 358.84,115.13 359.49,114.87 360.14,114.75 360.36,114.74 360.80,114.74 361.45,114.76 362.10,114.81 362.76,114.92 363.41,115.13 364.06,115.44 364.72,115.85 365.37,116.38 366.02,117.02 366.67,117.77 367.33,118.61 367.98,119.55 368.63,120.58 369.29,121.68 369.94,122.85 370.59,124.08 371.25,125.36 371.90,126.69 372.55,128.05 373.20,129.43 373.86,130.84 374.51,132.26 375.16,133.68 375.82,135.10 376.47,136.51 377.12,137.91 377.78,139.29 378.43,140.65 379.08,141.97 379.73,143.26 380.39,144.52 381.04,145.74 381.69,146.92 382.35,148.05 383.00,149.14 383.65,150.18 384.31,151.17 384.96,152.12 385.61,153.02 386.26,153.88 386.92,154.68 387.57,155.44 388.22,156.16 388.88,156.83 389.53,157.46 390.18,158.04 390.84,158.59 391.49,159.10 392.14,159.57 392.79,160.00 393.45,160.41 394.10,160.78 394.75,161.12 395.41,161.43 396.06,161.72 396.71,161.98 397.37,162.22 398.02,162.44 398.67,162.63 399.32,162.81 399.98,162.97 400.63,163.12 401.28,163.25 401.94,163.37 402.59,163.48 403.24,163.57 403.89,163.66 404.55,163.74 405.20,163.80 405.85,163.86 406.51,163.92 407.16,163.97 407.81,164.01 408.47,164.05 409.12,164.08 409.77,164.11 410.43,164.13 411.08,164.16 411.73,164.17 412.38,164.19 413.04,164.21 413.69,164.22 414.34,164.23 415.00,164.24 415.65,164.25 416.30,164.26 416.96,164.26 417.61,164.27 418.26,164.27 418.91,164.28 419.57,164.28 420.22,164.28 420.87,164.29 421.53,164.29 422.18,164.29 422.83,164.29 423.49,164.29 424.14,164.29 424.79,164.30 425.44,164.30 426.10,164.30 426.75,164.30 427.40,164.30 428.06,164.30 428.71,164.30 429.36,164.30 430.01,164.30 430.67,164.30 431.32,164.30 431.97,164.30 432.63,164.30 433.28,164.30 433.93,164.30 434.59,164.30 435.24,164.30 435.89,164.30 436.55,164.30 437.20,164.30 437.85,164.30 438.50,164.30 439.16,164.30 439.81,164.30 440.46,164.30 441.12,164.30 441.77,164.30 442.42,164.30 443.08,164.30 443.73,164.30 444.38,164.30 445.03,164.30 445.69,164.30 446.34,164.30 446.99,164.30 447.65,164.30 448.30,164.30 448.95,164.30 449.61,164.30 450.26,164.30 450.91,164.30 451.56,164.30 452.22,164.30 452.87,164.30 453.52,164.30 454.18,164.30 454.83,164.30 455.48,164.30 456.13,164.30 456.79,164.30 457.44,164.30 458.09,164.30 458.75,164.30 459.40,164.30" fill="none" stroke="#333" stroke-width="1.1" stroke-linejoin="round" stroke-dasharray="1.8,1.4"/>
<polyline points="328.80,164.30 329.45,164.30 330.11,164.30 330.76,164.30 331.41,164.30 332.06,164.30 332.72,164.30 333.37,164.30 334.02,164.30 334.68,164.30 335.33,164.30 335.98,164.30 336.64,157.41 337.29,149.00 337.94,139.91 338.60,130.35 339.25,120.42 339.90,110.18 340.55,99.69 341.21,88.96 341.86,78.03 342.51,66.92 342.95,59.42 343.17,62.09 343.82,77.29 344.47,90.21 345.12,100.38 345.78,108.38 346.43,114.66 347.08,118.88 347.74,122.56 348.39,128.11 349.04,129.51 349.70,132.17 350.35,134.44 351.00,138.06 351.66,139.99 352.31,140.37 352.96,140.59 353.61,143.40 354.27,143.77 354.92,145.43 355.57,144.77 356.23,145.40 356.88,147.99 357.53,146.95 358.19,150.68 358.84,149.06 359.49,149.57 360.14,152.51 360.80,151.40 361.45,152.46 362.10,151.79 362.76,154.68 363.41,154.15 364.06,153.56 364.72,154.80 365.37,156.28 366.02,157.41 366.67,155.11 367.33,156.96 367.98,155.68 368.63,158.71 369.29,156.93 369.94,157.24 370.59,157.20 371.25,160.32 371.90,159.47 372.55,160.74 373.20,158.78 373.86,160.26 374.51,158.57 375.16,160.62 375.82,159.56 376.47,159.46 377.12,161.62 377.78,160.79 378.43,159.69 379.08,161.20 379.73,161.87 380.39,162.30 381.04,160.80 381.69,162.80 382.35,161.62 383.00,161.89 383.65,162.01 384.31,163.44 384.96,161.88 385.61,161.16 386.26,163.13 386.92,163.17 387.57,161.44 388.22,162.56 388.88,163.59 389.53,164.30 390.18,162.21 390.84,163.55 391.49,163.24 392.14,163.91 392.79,162.83 393.45,162.58 394.10,163.94 394.75,164.30 395.41,161.90 396.06,162.19 396.71,164.30 397.37,163.35 398.02,163.01 398.67,163.93 399.32,162.93 399.98,162.24 400.63,163.44 401.28,164.09 401.94,164.30 402.59,164.30 403.24,164.30 403.89,164.30 404.55,164.30 405.20,162.82 405.85,163.80 406.51,162.97 407.16,162.63 407.81,162.99 408.47,164.30 409.12,162.66 409.77,164.30 410.43,163.17 411.08,162.97 411.73,163.56 412.38,164.30 413.04,164.30 413.69,164.30 414.34,163.67 415.00,164.30 415.65,164.01 416.30,164.30 416.96,164.30 417.61,164.30 418.26,163.44 418.91,164.20 419.57,164.30 420.22,164.21 420.87,164.01 421.53,164.13 422.18,164.30 422.83,162.72 423.49,163.41 424.14,164.30 424.79,164.30 425.44,164.30 426.10,164.30 426.75,164.30 427.40,163.46 428.06,164.02 428.71,164.30 429.36,163.00 430.01,164.30 430.67,163.99 431.32,162.89 431.97,164.07 432.63,163.89 433.28,164.30 433.93,162.69 434.59,163.46 435.24,164.30 435.89,164.30 436.55,163.98 437.20,164.21 437.85,164.19 438.50,164.30 439.16,164.03 439.81,163.63 440.46,163.44 441.12,164.30 441.77,164.30 442.42,164.26 443.08,164.16 443.73,164.30 444.38,164.30 445.03,164.30 445.69,162.75 446.34,163.26 446.99,164.30 447.65,163.49 448.30,164.30 448.95,164.30 449.61,164.23 450.26,163.66 450.91,164.30 451.56,164.30 452.22,163.01 452.87,163.94 453.52,162.74 454.18,164.30 454.83,163.01 455.48,163.23 456.13,164.30 456.79,164.18 457.44,163.48 458.09,164.30 458.75,163.82 459.40,163.19" fill="none" stroke="#2222ff" stroke-width="1.1" stroke-linejoin="round" stroke-dasharray="1.6,1.1"/>
<polyline points="328.80,164.30 329.45,164.30 330.11,164.30 330.76,164.30 331.41,164.30 332.06,164.30 332.72,164.30 333.37,164.30 334.02,164.30 334.68,164.30 335.33,164.30 335.98,162.17 336.64,153.83 337.29,144.38 337.94,134.28 338.60,123.70 339.25,112.75 339.90,101.49 340.55,89.95 341.21,78.18 341.86,66.19 342.51,54.01 342.95,45.79 343.17,46.56 343.82,56.16 344.47,70.10 345.12,83.47 345.78,94.95 346.43,104.83 347.08,112.31 347.74,118.89 348.39,124.10 349.04,128.62 349.70,131.65 350.35,135.91 351.00,137.60 351.66,141.67 352.31,142.95 352.96,144.69 353.61,146.86 354.27,146.69 354.92,149.20 355.57,149.09 356.23,149.74 356.88,152.66 357.53,151.83 358.19,152.91 358.84,154.07 359.49,156.53 360.14,156.03 360.80,156.18 361.45,157.64 362.10,158.36 362.76,158.62 363.41,159.21 364.06,158.18 364.72,159.77 365.37,159.92 366.02,159.65 366.67,159.13 367.33,161.20 367.98,162.14 368.63,159.85 369.29,160.47 369.94,160.79 370.59,161.72 371.25,162.69 371.90,163.07 372.55,162.82 373.20,162.54 373.86,163.75 374.51,162.15 375.16,162.19 375.82,164.24 376.47,162.08 377.12,163.13 377.78,162.05 378.43,163.34 379.08,162.54 379.73,163.54 380.39,163.17 381.04,163.54 381.69,164.30 382.35,164.30 383.00,164.30 383.65,163.99 384.31,164.13 384.96,163.71 385.61,163.42 386.26,164.16 386.92,164.30 387.57,163.91 388.22,162.73 388.88,163.22 389.53,163.59 390.18,163.17 390.84,164.30 391.49,164.30 392.14,164.30 392.79,164.30 393.45,164.30 394.10,163.79 394.75,163.00 395.41,164.30 396.06,163.66 396.71,162.97 397.37,163.46 398.02,164.30 398.67,163.82 399.32,164.30 399.98,164.30 400.63,164.30 401.28,164.16 401.94,163.09 402.59,164.30 403.24,164.30 403.89,164.30 404.55,164.30 405.20,164.30 405.85,163.63 406.51,164.30 407.16,164.30 407.81,164.30 408.47,164.30 409.12,163.81 409.77,163.11 410.43,164.27 411.08,164.30 411.73,164.30 412.38,164.30 413.04,164.30 413.69,164.30 414.34,164.30 415.00,163.36 415.65,164.30 416.30,163.24 416.96,163.26 417.61,164.30 418.26,164.30 418.91,164.30 419.57,163.83 420.22,163.40 420.87,163.31 421.53,164.30 422.18,164.30 422.83,164.30 423.49,164.30 424.14,164.30 424.79,164.30 425.44,164.30 426.10,162.95 426.75,164.30 427.40,164.30 428.06,164.20 428.71,164.30 429.36,164.05 430.01,164.29 430.67,164.30 431.32,164.30 431.97,163.94 432.63,163.84 433.28,163.69 433.93,164.30 434.59,164.30 435.24,163.46 435.89,163.68 436.55,164.30 437.20,164.30 437.85,164.30 438.50,163.72 439.16,164.30 439.81,164.30 440.46,164.30 441.12,164.30 441.77,163.70 442.42,163.94 443.08,164.30 443.73,164.30 444.38,163.96 445.03,164.30 445.69,163.20 446.34,164.30 446.99,163.96 447.65,164.30 448.30,163.06 448.95,163.78 449.61,164.30 450.26,164.29 450.91,163.36 451.56,163.33 452.22,163.86 452.87,163.92 453.52,163.64 454.18,163.17 454.83,164.26 455.48,163.99 456.13,163.49 456.79,164.27 457.44,164.30 458.09,164.08 458.75,164.30 459.40,163.72" fill="none" stroke="#444" stroke-width="1.15" stroke-linejoin="round" />
<line x1="328.80" y1="33.20" x2="328.80" y2="168.30" stroke="#000" stroke-width="1.4" />
<line x1="324.80" y1="164.30" x2="459.90" y2="164.30" stroke="#000" stroke-width="1.3" />
<line x1="324.80" y1="164.30" x2="328.80" y2="164.30" stroke="#000" stroke-width="1.1" />
<text transform="translate(314.10,168.00) scale(1.0700,1)" font-size="10.6" font-weight="normal" fill="#000">0</text>
<line x1="324.80" y1="138.08" x2="328.80" y2="138.08" stroke="#000" stroke-width="1.1" />
<text transform="translate(307.81,141.78) scale(1.0700,1)" font-size="10.6" font-weight="normal" fill="#000">50</text>
<line x1="324.80" y1="111.86" x2="328.80" y2="111.86" stroke="#000" stroke-width="1.1" />
<text transform="translate(301.51,115.56) scale(1.0700,1)" font-size="10.6" font-weight="normal" fill="#000">100</text>
<line x1="324.80" y1="85.64" x2="328.80" y2="85.64" stroke="#000" stroke-width="1.1" />
<text transform="translate(301.51,89.34) scale(1.0700,1)" font-size="10.6" font-weight="normal" fill="#000">150</text>
<line x1="324.80" y1="59.42" x2="328.80" y2="59.42" stroke="#000" stroke-width="1.1" />
<text transform="translate(301.51,63.12) scale(1.0700,1)" font-size="10.6" font-weight="normal" fill="#000">200</text>
<line x1="324.80" y1="33.20" x2="328.80" y2="33.20" stroke="#000" stroke-width="1.1" />
<text transform="translate(301.51,36.90) scale(1.0700,1)" font-size="10.6" font-weight="normal" fill="#000">250</text>
<line x1="328.80" y1="164.30" x2="328.80" y2="168.30" stroke="#000" stroke-width="1.1" />
<text transform="translate(325.62,180.50) scale(1.0700,1)" font-size="10.6" font-weight="normal" fill="#000">0</text>
<line x1="372.33" y1="164.30" x2="372.33" y2="168.30" stroke="#000" stroke-width="1.1" />
<text transform="translate(365.95,180.50) scale(1.0700,1)" font-size="10.6" font-weight="normal" fill="#000">20</text>
<line x1="415.87" y1="164.30" x2="415.87" y2="168.30" stroke="#000" stroke-width="1.1" />
<text transform="translate(409.66,180.50) scale(1.0700,1)" font-size="10.6" font-weight="normal" fill="#000">40</text>
<line x1="459.40" y1="164.30" x2="459.40" y2="168.30" stroke="#000" stroke-width="1.1" />
<text transform="translate(453.02,180.50) scale(1.0700,1)" font-size="10.6" font-weight="normal" fill="#000">60</text>
<text transform="translate(372.92,198.10) scale(0.7229,1)" font-size="12.6" font-weight="normal" fill="#000" stroke="#000" stroke-width="0.35">Time (min)</text>
<text transform="translate(293.90,127.88) rotate(-90) scale(0.7317,1)" font-size="12.2" font-weight="normal" fill="#000" stroke="#000" stroke-width="0.35">Thrombin (nM)</text>
<line x1="381.10" y1="59.80" x2="388.10" y2="59.80" stroke="#000" stroke-width="1.3" />
<text transform="translate(392.17,63.10) scale(0.9625,1)" font-size="10.0" font-weight="normal" fill="#000">no PS or TFPIα</text>
<line x1="381.10" y1="71.00" x2="388.10" y2="71.00" stroke="#22f" stroke-width="1.3" stroke-dasharray="1.3,1"/>
<text transform="translate(392.04,74.30) scale(1.0181,1)" font-size="10.0" font-weight="normal" fill="#000">100nM LG1A</text>
<text transform="translate(354.20,99.10) scale(0.9908,1)" font-size="10.0" font-weight="normal" fill="#000">TFPIα 1nM + LG1A (nM)</text>
<line x1="354.20" y1="100.70" x2="463.10" y2="100.70" stroke="#888" stroke-width="1.0" />
<line x1="429.20" y1="111.40" x2="435.80" y2="111.40" stroke="#333" stroke-width="1.3" stroke-dasharray="1.8,1.4"/>
<text transform="translate(439.68,114.90) scale(1.0600,1)" font-size="10.0" font-weight="normal" fill="#000">0</text>
<line x1="429.20" y1="122.70" x2="435.80" y2="122.70" stroke="#22f" stroke-width="1.3" />
<text transform="translate(439.31,126.20) scale(1.0600,1)" font-size="10.0" font-weight="normal" fill="#000">12.5</text>
<line x1="429.20" y1="134.00" x2="435.80" y2="134.00" stroke="#33f" stroke-width="1.3" />
<text transform="translate(439.57,137.50) scale(1.0600,1)" font-size="10.0" font-weight="normal" fill="#000">25</text>
<line x1="429.20" y1="145.30" x2="435.80" y2="145.30" stroke="#33f" stroke-width="1.3" />
<text transform="translate(439.68,148.80) scale(1.0600,1)" font-size="10.0" font-weight="normal" fill="#000">50</text>
<line x1="429.20" y1="156.60" x2="435.80" y2="156.60" stroke="#22f" stroke-width="1.3" />
<text transform="translate(439.31,160.10) scale(1.0600,1)" font-size="10.0" font-weight="normal" fill="#000">100</text>
<text transform="translate(8.79,236.00) scale(0.9914,1)" font-size="15.4" font-weight="bold" fill="#000" stroke="#000" stroke-width="0.2">C</text>
<text transform="translate(104.05,236.20) scale(0.8682,1)" font-size="14.2" font-weight="bold" fill="#000">LG1B</text>
<polyline points="55.00,380.20 55.65,380.20 56.31,380.20 56.96,380.20 57.61,380.20 58.27,380.20 58.92,380.20 59.57,380.20 60.22,380.20 60.88,380.20 61.53,380.20 62.18,380.20 62.84,380.20 63.49,380.20 64.14,380.20 64.80,380.20 65.45,380.20 66.10,380.20 66.75,380.20 67.41,380.20 68.06,380.20 68.71,380.20 69.37,380.20 70.02,380.20 70.67,380.20 71.33,380.03 71.98,379.02 72.63,377.18 73.28,374.69 73.94,371.71 74.59,368.41 75.24,364.92 75.90,361.37 76.55,357.85 77.20,354.45 77.86,351.22 78.51,348.21 79.16,345.47 79.81,343.00 80.47,340.82 81.12,338.94 81.77,337.36 82.43,336.07 83.08,335.06 83.73,334.32 84.39,333.83 85.04,333.58 85.47,333.53 85.69,333.53 86.34,333.62 87.00,333.82 87.65,334.14 88.30,334.59 88.96,335.72 89.61,335.51 90.26,336.36 90.91,337.47 91.57,338.82 92.22,338.81 92.87,339.79 93.53,341.32 94.18,342.39 94.83,343.92 95.49,345.39 96.14,345.85 96.79,346.56 97.44,348.50 98.10,348.33 98.75,350.31 99.40,351.32 100.06,352.62 100.71,351.98 101.36,353.35 102.02,354.03 102.67,355.34 103.32,357.16 103.97,357.49 104.63,357.99 105.28,359.39 105.93,358.71 106.59,360.38 107.24,361.41 107.89,360.93 108.55,362.71 109.20,361.94 109.85,363.30 110.50,363.67 111.16,364.53 111.81,364.78 112.46,365.75 113.12,366.44 113.77,365.48 114.42,366.95 115.08,366.42 115.73,367.76 116.38,366.84 117.03,367.31 117.69,367.87 118.34,368.17 118.99,368.78 119.65,368.82 120.30,370.12 120.95,369.79 121.61,369.47 122.26,370.77 122.91,369.80 123.56,370.09 124.22,371.12 124.87,371.41 125.52,371.48 126.18,371.79 126.83,370.97 127.48,372.18 128.14,372.97 128.79,373.04 129.44,372.17 130.09,371.88 130.75,372.88 131.40,373.04 132.05,373.10 132.71,372.93 133.36,373.96 134.01,373.45 134.67,373.69 135.32,373.71 135.97,374.59 136.62,374.74 137.28,374.57 137.93,373.73 138.58,374.82 139.24,374.52 139.89,375.13 140.54,375.59 141.20,375.76 141.85,374.62 142.50,374.79 143.16,375.57 143.81,375.15 144.46,375.26 145.11,374.99 145.77,374.98 146.42,376.00 147.07,375.12 147.73,375.26 148.38,375.97 149.03,375.56 149.69,376.31 150.34,376.58 150.99,376.88 151.64,375.90 152.30,377.18 152.95,377.41 153.60,376.25 154.26,376.37 154.91,376.93 155.56,376.41 156.22,377.80 156.87,377.52 157.52,377.53 158.17,377.37 158.83,377.86 159.48,378.09 160.13,377.70 160.79,376.81 161.44,376.73 162.09,377.18 162.75,377.69 163.40,378.12 164.05,376.99 164.70,377.77 165.36,377.48 166.01,378.70 166.66,378.44 167.32,377.44 167.97,377.56 168.62,377.46 169.28,377.97 169.93,378.31 170.58,378.09 171.23,377.68 171.89,378.63 172.54,378.29 173.19,378.77 173.85,377.98 174.50,379.29 175.15,378.19 175.81,377.78 176.46,379.37 177.11,378.45 177.76,378.40 178.42,378.09 179.07,378.57 179.72,379.15 180.38,378.93 181.03,378.03 181.68,378.15 182.34,379.47 182.99,379.57 183.64,379.60 184.29,379.74 184.95,379.06 185.60,379.60" fill="none" stroke="#ff9a9a" stroke-width="0.9" stroke-linejoin="round" />
<polyline points="55.00,380.20 55.65,380.20 56.31,380.20 56.96,380.20 57.61,380.20 58.27,380.20 58.92,380.20 59.57,380.20 60.22,380.20 60.88,380.20 61.53,380.20 62.18,380.20 62.84,380.20 63.49,380.20 64.14,380.20 64.80,380.20 65.45,380.20 66.10,380.20 66.75,380.20 67.41,380.20 68.06,380.20 68.71,380.20 69.37,380.20 70.02,380.20 70.67,380.20 71.33,380.16 71.98,379.46 72.63,377.91 73.28,375.66 73.94,372.89 74.59,369.75 75.24,366.40 75.90,362.97 76.55,359.54 77.20,356.22 77.86,353.05 78.51,350.10 79.16,347.39 79.81,344.96 80.47,342.82 81.12,340.96 81.77,339.40 82.43,338.13 83.08,337.14 83.73,336.40 84.39,335.92 85.04,335.67 85.47,335.63 85.69,335.63 86.34,335.71 87.00,335.90 87.65,336.21 88.30,336.64 88.96,336.41 89.61,338.42 90.26,339.35 90.91,338.52 91.57,340.75 92.22,341.78 92.87,341.84 93.53,343.35 94.18,343.44 94.83,345.57 95.49,345.38 96.14,347.49 96.79,348.04 97.44,348.51 98.10,349.92 98.75,350.51 99.40,351.84 100.06,353.89 100.71,353.41 101.36,354.79 102.02,356.13 102.67,357.16 103.32,356.87 103.97,358.09 104.63,358.25 105.28,359.25 105.93,359.62 106.59,360.95 107.24,361.37 107.89,362.12 108.55,363.30 109.20,362.68 109.85,364.30 110.50,364.02 111.16,364.22 111.81,365.20 112.46,366.50 113.12,365.78 113.77,366.45 114.42,367.65 115.08,368.25 115.73,367.79 116.38,368.97 117.03,367.80 117.69,368.82 118.34,369.10 118.99,369.57 119.65,369.43 120.30,369.27 120.95,370.55 121.61,370.68 122.26,370.57 122.91,371.28 123.56,371.00 124.22,371.31 124.87,371.70 125.52,371.50 126.18,371.94 126.83,372.86 127.48,371.52 128.14,372.78 128.79,372.82 129.44,373.04 130.09,372.32 130.75,372.44 131.40,373.33 132.05,373.67 132.71,374.33 133.36,373.13 134.01,374.48 134.67,373.99 135.32,374.45 135.97,374.62 136.62,374.70 137.28,375.10 137.93,375.48 138.58,374.76 139.24,374.44 139.89,374.80 140.54,375.66 141.20,374.94 141.85,376.12 142.50,375.62 143.16,375.02 143.81,374.96 144.46,375.83 145.11,375.28 145.77,375.96 146.42,376.00 147.07,375.99 147.73,375.39 148.38,375.89 149.03,376.43 149.69,376.08 150.34,376.30 150.99,376.87 151.64,376.22 152.30,376.24 152.95,376.66 153.60,376.17 154.26,377.79 154.91,377.05 155.56,376.89 156.22,377.45 156.87,377.80 157.52,376.99 158.17,377.48 158.83,377.82 159.48,378.26 160.13,376.76 160.79,377.85 161.44,378.30 162.09,378.19 162.75,378.18 163.40,377.20 164.05,378.40 164.70,378.29 165.36,378.64 166.01,378.06 166.66,378.55 167.32,378.37 167.97,377.75 168.62,377.48 169.28,377.67 169.93,379.05 170.58,378.52 171.23,377.77 171.89,379.18 172.54,378.93 173.19,378.49 173.85,378.71 174.50,378.12 175.15,378.21 175.81,378.67 176.46,379.07 177.11,379.13 177.76,379.10 178.42,379.47 179.07,378.50 179.72,379.38 180.38,378.18 181.03,378.62 181.68,379.64 182.34,378.92 182.99,378.77 183.64,379.74 184.29,379.02 184.95,379.81 185.60,378.60" fill="none" stroke="#ff6666" stroke-width="0.9" stroke-linejoin="round" />
<polyline points="55.00,380.20 55.65,380.20 56.31,380.20 56.96,380.20 57.61,380.20 58.27,380.20 58.92,380.20 59.57,380.20 60.22,380.20 60.88,380.20 61.53,380.20 62.18,380.20 62.84,380.20 63.49,380.20 64.14,380.20 64.80,380.20 65.45,380.20 66.10,380.20 66.75,380.20 67.41,380.20 68.06,380.20 68.71,380.20 69.37,380.20 70.02,380.20 70.67,380.20 71.33,380.20 71.98,379.92 72.63,379.03 73.28,377.61 73.94,375.76 74.59,373.61 75.24,371.26 75.90,368.79 76.55,366.29 77.20,363.82 77.86,361.43 78.51,359.16 79.16,357.05 79.81,355.11 80.47,353.36 81.12,351.81 81.77,350.46 82.43,349.32 83.08,348.38 83.73,347.63 84.39,347.06 85.04,346.67 85.69,346.45 86.34,346.38 86.34,346.38 87.00,346.41 87.65,346.53 88.30,346.73 88.96,347.03 89.61,347.41 90.26,347.16 90.91,347.65 91.57,348.34 92.22,350.34 92.87,350.17 93.53,351.17 94.18,351.74 94.83,353.17 95.49,353.84 96.14,354.20 96.79,355.36 97.44,355.74 98.10,357.24 98.75,357.90 99.40,357.61 100.06,358.83 100.71,359.40 101.36,359.73 102.02,361.05 102.67,362.22 103.32,361.64 103.97,362.59 104.63,363.07 105.28,363.71 105.93,363.68 106.59,365.23 107.24,365.08 107.89,366.22 108.55,366.35 109.20,366.65 109.85,367.66 110.50,368.46 111.16,368.20 111.81,368.17 112.46,368.74 113.12,369.32 113.77,369.32 114.42,370.41 115.08,370.72 115.73,370.76 116.38,370.21 117.03,371.51 117.69,371.90 118.34,372.17 118.99,372.50 119.65,372.33 120.30,372.04 120.95,371.83 121.61,372.85 122.26,372.98 122.91,373.30 123.56,373.44 124.22,372.82 124.87,373.37 125.52,374.02 126.18,374.43 126.83,373.44 127.48,373.71 128.14,373.65 128.79,374.78 129.44,374.40 130.09,373.90 130.75,374.57 131.40,374.10 132.05,375.52 132.71,374.28 133.36,375.94 134.01,375.44 134.67,376.21 135.32,374.99 135.97,375.30 136.62,374.92 137.28,375.30 137.93,375.15 138.58,375.93 139.24,375.27 139.89,375.76 140.54,376.52 141.20,375.55 141.85,376.63 142.50,377.02 143.16,377.30 143.81,376.72 144.46,377.25 145.11,376.08 145.77,376.13 146.42,377.43 147.07,377.69 147.73,377.04 148.38,377.71 149.03,377.15 149.69,376.76 150.34,377.76 150.99,377.54 151.64,376.79 152.30,377.62 152.95,377.84 153.60,376.98 154.26,377.16 154.91,377.08 155.56,377.48 156.22,377.99 156.87,377.57 157.52,377.39 158.17,377.76 158.83,378.48 159.48,378.43 160.13,378.28 160.79,377.72 161.44,378.12 162.09,378.17 162.75,377.75 163.40,379.00 164.05,378.16 164.70,378.70 165.36,378.36 166.01,377.93 166.66,378.95 167.32,377.81 167.97,379.31 168.62,378.53 169.28,378.60 169.93,379.14 170.58,378.63 171.23,378.81 171.89,378.88 172.54,378.46 173.19,379.68 173.85,379.09 174.50,378.43 175.15,379.54 175.81,378.34 176.46,379.48 177.11,378.71 177.76,379.59 178.42,379.15 179.07,379.22 179.72,379.81 180.38,378.80 181.03,379.19 181.68,378.86 182.34,379.13 182.99,379.13 183.64,379.20 184.29,379.60 184.95,378.61 185.60,380.00" fill="none" stroke="#ff2020" stroke-width="0.9" stroke-linejoin="round" />
<polyline points="55.00,380.20 55.65,380.20 56.31,380.20 56.96,380.20 57.61,380.20 58.27,380.20 58.92,380.20 59.57,380.20 60.22,380.20 60.88,380.20 61.53,380.20 62.18,380.20 62.84,380.20 63.49,380.20 64.14,380.20 64.80,380.20 65.45,380.20 66.10,380.20 66.75,380.20 67.41,380.20 68.06,380.20 68.71,380.20 69.37,380.20 70.02,380.20 70.67,380.20 71.33,380.20 71.98,380.18 72.63,379.78 73.28,378.89 73.94,377.60 74.59,375.98 75.24,374.13 75.90,372.14 76.55,370.08 77.20,368.00 77.86,365.95 78.51,363.98 79.16,362.11 79.81,360.37 80.47,358.78 81.12,357.34 81.77,356.07 82.43,354.97 83.08,354.03 83.73,353.26 84.39,352.65 85.04,352.18 85.69,351.86 86.34,351.68 87.00,351.62 87.65,351.65 88.30,351.75 88.96,351.92 89.61,352.17 90.26,352.49 90.91,352.53 91.57,352.76 92.22,354.37 92.87,353.54 93.53,355.47 94.18,355.28 94.83,356.88 95.49,356.40 96.14,358.07 96.79,357.80 97.44,358.44 98.10,359.03 98.75,360.22 99.40,360.16 100.06,360.59 100.71,362.68 101.36,362.61 102.02,362.47 102.67,363.41 103.32,364.47 103.97,365.25 104.63,364.68 105.28,366.65 105.93,366.00 106.59,366.33 107.24,367.93 107.89,368.08 108.55,368.53 109.20,368.53 109.85,369.20 110.50,368.68 111.16,368.98 111.81,370.33 112.46,369.68 113.12,371.37 113.77,371.61 114.42,370.93 115.08,370.97 115.73,371.19 116.38,371.15 117.03,371.60 117.69,372.82 118.34,372.23 118.99,372.13 119.65,373.72 120.30,373.24 120.95,373.99 121.61,374.18 122.26,373.78 122.91,373.62 123.56,373.27 124.22,374.83 124.87,374.35 125.52,373.66 126.18,374.19 126.83,374.71 127.48,375.32 128.14,374.79 128.79,375.53 129.44,375.01 130.09,375.11 130.75,375.65 131.40,375.08 132.05,375.84 132.71,375.83 133.36,375.32 134.01,376.39 134.67,376.59 135.32,376.03 135.97,376.35 136.62,375.70 137.28,376.83 137.93,376.71 138.58,377.31 139.24,376.73 139.89,377.04 140.54,376.89 141.20,376.43 141.85,377.72 142.50,376.19 143.16,376.73 143.81,376.62 144.46,377.15 145.11,377.15 145.77,377.49 146.42,377.57 147.07,377.93 147.73,377.85 148.38,377.92 149.03,377.90 149.69,377.00 150.34,377.24 150.99,377.55 151.64,378.65 152.30,378.29 152.95,377.87 153.60,377.66 154.26,378.17 154.91,377.86 155.56,377.44 156.22,378.56 156.87,378.41 157.52,377.82 158.17,378.60 158.83,377.96 159.48,378.55 160.13,379.22 160.79,378.51 161.44,379.21 162.09,378.05 162.75,377.98 163.40,378.54 164.05,377.96 164.70,379.14 165.36,378.79 166.01,379.27 166.66,379.51 167.32,378.24 167.97,379.57 168.62,378.12 169.28,378.78 169.93,378.57 170.58,379.69 171.23,378.27 171.89,378.49 172.54,379.67 173.19,379.57 173.85,379.66 174.50,379.08 175.15,379.81 175.81,378.63 176.46,379.16 177.11,378.83 177.76,379.61 178.42,378.96 179.07,379.32 179.72,379.01 180.38,379.43 181.03,378.48 181.68,378.74 182.34,378.78 182.99,379.62 183.64,379.89 184.29,379.97 184.95,380.03 185.60,378.64" fill="none" stroke="#a80000" stroke-width="0.9" stroke-linejoin="round" />
<polyline points="55.00,380.20 55.65,380.20 56.31,380.20 56.96,380.20 57.61,380.20 58.27,380.20 58.92,380.20 59.57,380.20 60.22,380.20 60.88,380.20 61.53,380.20 62.18,380.20 62.84,380.20 63.49,380.20 64.14,380.20 64.80,380.20 65.45,380.20 66.10,380.20 66.75,380.20 67.41,380.20 68.06,380.20 68.71,380.20 69.37,380.20 70.02,380.20 70.67,380.20 71.33,380.02 71.98,378.95 72.63,377.02 73.28,374.40 73.94,371.26 74.59,367.78 75.24,364.11 75.90,360.37 76.55,356.67 77.20,353.09 77.86,349.69 78.51,346.52 79.16,343.63 79.81,341.03 80.47,338.74 81.12,336.76 81.77,335.10 82.43,333.74 83.08,332.68 83.73,331.89 84.39,331.38 85.04,331.11 85.47,331.06 85.69,331.06 86.34,331.07 87.00,331.08 87.65,331.12 88.30,331.21 88.96,331.35 89.61,331.58 90.26,331.88 90.91,332.26 91.57,332.74 92.22,333.30 92.87,333.95 93.53,334.69 94.18,335.51 94.83,336.41 95.49,337.38 96.14,338.42 96.79,339.52 97.44,340.68 98.10,341.89 98.75,343.15 99.40,344.44 100.06,345.76 100.71,347.11 101.36,348.47 102.02,349.85 102.67,351.23 103.32,352.60 103.97,353.97 104.63,355.33 105.28,356.67 105.93,357.99 106.59,359.27 107.24,360.53 107.89,361.75 108.55,362.94 109.20,364.08 109.85,365.19 110.50,366.24 111.16,367.26 111.81,368.22 112.46,369.14 113.12,370.01 113.77,370.83 114.42,371.61 115.08,372.34 115.73,373.02 116.38,373.66 117.03,374.25 117.69,374.80 118.34,375.32 118.99,375.79 119.65,376.22 120.30,376.63 120.95,376.99 121.61,377.33 122.26,377.64 122.91,377.92 123.56,378.17 124.22,378.40 124.87,378.60 125.52,378.79 126.18,378.96 126.83,379.11 127.48,379.24 128.14,379.36 128.79,379.47 129.44,379.56 130.09,379.64 130.75,379.72 131.40,379.78 132.05,379.84 132.71,379.89 133.36,379.93 134.01,379.97 134.67,380.00 135.32,380.03 135.97,380.06 136.62,380.08 137.28,380.10 137.93,380.11 138.58,380.13 139.24,380.14 139.89,380.15 140.54,380.16 141.20,380.16 141.85,380.17 142.50,380.17 143.16,380.18 143.81,380.18 144.46,380.19 145.11,380.19 145.77,380.19 146.42,380.19 147.07,380.19 147.73,380.19 148.38,380.20 149.03,380.20 149.69,380.20 150.34,380.20 150.99,380.20 151.64,380.20 152.30,380.20 152.95,380.20 153.60,380.20 154.26,380.20 154.91,380.20 155.56,380.20 156.22,380.20 156.87,380.20 157.52,380.20 158.17,380.20 158.83,380.20 159.48,380.20 160.13,380.20 160.79,380.20 161.44,380.20 162.09,380.20 162.75,380.20 163.40,380.20 164.05,380.20 164.70,380.20 165.36,380.20 166.01,380.20 166.66,380.20 167.32,380.20 167.97,380.20 168.62,380.20 169.28,380.20 169.93,380.20 170.58,380.20 171.23,380.20 171.89,380.20 172.54,380.20 173.19,380.20 173.85,380.20 174.50,380.20 175.15,380.20 175.81,380.20 176.46,380.20 177.11,380.20 177.76,380.20 178.42,380.20 179.07,380.20 179.72,380.20 180.38,380.20 181.03,380.20 181.68,380.20 182.34,380.20 182.99,380.20 183.64,380.20 184.29,380.20 184.95,380.20 185.60,380.20" fill="none" stroke="#333" stroke-width="1.1" stroke-linejoin="round" stroke-dasharray="1.8,1.4"/>
<polyline points="55.00,380.20 55.65,380.20 56.31,380.20 56.96,380.20 57.61,380.20 58.27,380.20 58.92,380.20 59.57,380.20 60.22,380.20 60.88,380.20 61.53,380.20 62.18,375.83 62.84,367.67 63.49,358.69 64.14,349.18 64.80,339.26 65.45,329.02 66.10,318.50 66.75,307.74 67.41,296.77 68.06,285.61 68.71,274.27 69.37,287.44 70.02,301.69 70.67,312.99 71.33,321.89 71.98,328.95 72.63,334.14 73.28,338.58 73.94,341.57 74.59,347.13 75.24,350.24 75.90,350.18 76.55,353.75 77.20,355.42 77.86,355.63 78.51,359.07 79.16,358.10 79.81,360.63 80.47,363.08 81.12,361.45 81.77,363.51 82.43,365.97 83.08,364.43 83.73,365.43 84.39,366.29 85.04,367.26 85.69,366.87 86.34,370.59 87.00,368.15 87.65,369.76 88.30,371.52 88.96,370.89 89.61,372.23 90.26,371.70 90.91,371.96 91.57,372.93 92.22,374.65 92.87,374.09 93.53,374.71 94.18,373.63 94.83,373.37 95.49,374.15 96.14,375.19 96.79,376.59 97.44,375.14 98.10,376.77 98.75,374.69 99.40,377.49 100.06,375.19 100.71,378.37 101.36,376.15 102.02,377.68 102.67,377.12 103.32,377.77 103.97,378.25 104.63,377.98 105.28,376.92 105.93,378.50 106.59,378.59 107.24,377.37 107.89,379.37 108.55,378.91 109.20,378.50 109.85,378.58 110.50,379.76 111.16,377.97 111.81,378.91 112.46,380.20 113.12,379.52 113.77,380.20 114.42,379.63 115.08,380.20 115.73,380.02 116.38,379.12 117.03,378.75 117.69,380.02 118.34,379.55 118.99,379.43 119.65,379.24 120.30,378.27 120.95,380.20 121.61,378.75 122.26,379.48 122.91,378.43 123.56,379.12 124.22,380.20 124.87,380.20 125.52,378.84 126.18,380.20 126.83,379.46 127.48,380.20 128.14,379.67 128.79,380.16 129.44,380.02 130.09,380.20 130.75,378.68 131.40,378.86 132.05,379.19 132.71,379.59 133.36,380.20 134.01,380.20 134.67,378.94 135.32,380.20 135.97,380.20 136.62,378.84 137.28,380.20 137.93,378.50 138.58,380.20 139.24,378.96 139.89,380.20 140.54,380.20 141.20,380.20 141.85,379.07 142.50,380.20 143.16,379.80 143.81,378.99 144.46,380.20 145.11,380.15 145.77,380.20 146.42,380.20 147.07,379.09 147.73,380.20 148.38,380.20 149.03,380.20 149.69,379.15 150.34,380.20 150.99,379.47 151.64,378.59 152.30,379.55 152.95,378.90 153.60,380.20 154.26,379.82 154.91,379.82 155.56,380.20 156.22,380.20 156.87,380.20 157.52,380.20 158.17,380.20 158.83,380.20 159.48,378.85 160.13,380.20 160.79,380.03 161.44,379.52 162.09,380.20 162.75,378.79 163.40,378.86 164.05,379.93 164.70,380.12 165.36,379.08 166.01,379.87 166.66,380.20 167.32,378.83 167.97,380.20 168.62,380.00 169.28,380.04 169.93,379.35 170.58,380.20 171.23,379.77 171.89,380.20 172.54,379.58 173.19,380.20 173.85,380.20 174.50,380.13 175.15,379.48 175.81,378.91 176.46,378.74 177.11,380.20 177.76,380.20 178.42,379.90 179.07,379.94 179.72,379.46 180.38,380.20 181.03,379.27 181.68,380.20 182.34,379.15 182.99,378.68 183.64,380.06 184.29,380.20 184.95,379.70 185.60,380.20" fill="none" stroke="#e00000" stroke-width="1.1" stroke-linejoin="round" stroke-dasharray="1.6,1.1"/>
<polyline points="55.00,380.20 55.65,380.20 56.31,380.20 56.96,380.20 57.61,380.20 58.27,380.20 58.92,380.20 59.57,380.20 60.22,380.20 60.88,380.20 61.53,380.20 62.18,372.68 62.84,363.51 63.49,353.60 64.14,343.17 64.80,332.34 65.45,321.17 66.10,309.73 66.75,298.03 67.41,286.11 68.06,273.99 68.71,261.69 69.37,277.17 70.02,294.02 70.67,307.47 71.33,318.13 71.98,326.63 72.63,332.81 73.28,339.88 73.94,344.49 74.59,347.26 75.24,352.01 75.90,352.84 76.55,355.29 77.20,359.37 77.86,359.49 78.51,361.65 79.16,362.77 79.81,363.25 80.47,364.38 81.12,367.06 81.77,366.88 82.43,367.97 83.08,368.32 83.73,371.67 84.39,369.91 85.04,372.53 85.69,373.40 86.34,372.70 87.00,372.56 87.65,372.73 88.30,374.80 88.96,373.95 89.61,376.51 90.26,374.32 90.91,376.49 91.57,376.12 92.22,377.55 92.87,378.03 93.53,378.38 94.18,376.99 94.83,377.31 95.49,376.81 96.14,376.90 96.79,378.23 97.44,377.24 98.10,379.15 98.75,377.43 99.40,379.27 100.06,377.51 100.71,379.13 101.36,379.11 102.02,378.96 102.67,380.20 103.32,380.20 103.97,379.12 104.63,378.73 105.28,380.20 105.93,379.69 106.59,379.85 107.24,378.78 107.89,378.26 108.55,380.20 109.20,379.56 109.85,380.20 110.50,378.98 111.16,378.58 111.81,379.25 112.46,379.62 113.12,380.20 113.77,380.20 114.42,380.20 115.08,380.20 115.73,380.20 116.38,378.72 117.03,380.20 117.69,378.89 118.34,379.31 118.99,379.28 119.65,378.92 120.30,379.51 120.95,380.20 121.61,380.16 122.26,380.20 122.91,380.20 123.56,380.20 124.22,379.92 124.87,380.05 125.52,378.83 126.18,379.80 126.83,379.26 127.48,380.20 128.14,379.92 128.79,379.28 129.44,380.20 130.09,380.20 130.75,380.20 131.40,380.20 132.05,380.20 132.71,380.20 133.36,380.20 134.01,380.20 134.67,379.88 135.32,380.20 135.97,380.20 136.62,379.68 137.28,380.20 137.93,380.20 138.58,378.98 139.24,380.20 139.89,378.99 140.54,379.78 141.20,380.06 141.85,380.20 142.50,380.20 143.16,378.92 143.81,380.20 144.46,380.20 145.11,380.20 145.77,379.93 146.42,378.88 147.07,380.20 147.73,379.36 148.38,379.65 149.03,380.15 149.69,379.78 150.34,379.56 150.99,379.03 151.64,380.20 152.30,380.20 152.95,380.20 153.60,380.20 154.26,380.20 154.91,380.20 155.56,380.20 156.22,380.20 156.87,380.20 157.52,379.07 158.17,379.61 158.83,380.20 159.48,380.20 160.13,379.50 160.79,380.20 161.44,379.56 162.09,380.20 162.75,379.87 163.40,379.71 164.05,380.09 164.70,379.40 165.36,379.00 166.01,378.88 166.66,380.20 167.32,380.20 167.97,380.20 168.62,379.53 169.28,380.20 169.93,380.20 170.58,380.20 171.23,380.20 171.89,380.20 172.54,380.20 173.19,380.13 173.85,379.33 174.50,379.60 175.15,380.20 175.81,380.20 176.46,379.44 177.11,380.20 177.76,379.80 178.42,378.92 179.07,379.98 179.72,380.20 180.38,380.20 181.03,380.20 181.68,378.97 182.34,380.20 182.99,380.20 183.64,379.92 184.29,380.20 184.95,379.93 185.60,380.20" fill="none" stroke="#222" stroke-width="0.9" stroke-linejoin="round" />
<line x1="55.00" y1="249.10" x2="55.00" y2="384.20" stroke="#000" stroke-width="1.4" />
<line x1="51.00" y1="380.20" x2="186.10" y2="380.20" stroke="#000" stroke-width="1.3" />
<line x1="51.00" y1="380.20" x2="55.00" y2="380.20" stroke="#000" stroke-width="1.1" />
<text transform="translate(40.30,383.90) scale(1.0700,1)" font-size="10.6" font-weight="normal" fill="#000">0</text>
<line x1="51.00" y1="353.98" x2="55.00" y2="353.98" stroke="#000" stroke-width="1.1" />
<text transform="translate(34.01,357.68) scale(1.0700,1)" font-size="10.6" font-weight="normal" fill="#000">50</text>
<line x1="51.00" y1="327.76" x2="55.00" y2="327.76" stroke="#000" stroke-width="1.1" />
<text transform="translate(27.71,331.46) scale(1.0700,1)" font-size="10.6" font-weight="normal" fill="#000">100</text>
<line x1="51.00" y1="301.54" x2="55.00" y2="301.54" stroke="#000" stroke-width="1.1" />
<text transform="translate(27.71,305.24) scale(1.0700,1)" font-size="10.6" font-weight="normal" fill="#000">150</text>
<line x1="51.00" y1="275.32" x2="55.00" y2="275.32" stroke="#000" stroke-width="1.1" />
<text transform="translate(27.71,279.02) scale(1.0700,1)" font-size="10.6" font-weight="normal" fill="#000">200</text>
<line x1="51.00" y1="249.10" x2="55.00" y2="249.10" stroke="#000" stroke-width="1.1" />
<text transform="translate(27.71,252.80) scale(1.0700,1)" font-size="10.6" font-weight="normal" fill="#000">250</text>
<line x1="55.00" y1="380.20" x2="55.00" y2="384.20" stroke="#000" stroke-width="1.1" />
<text transform="translate(51.82,396.40) scale(1.0700,1)" font-size="10.6" font-weight="normal" fill="#000">0</text>
<line x1="98.53" y1="380.20" x2="98.53" y2="384.20" stroke="#000" stroke-width="1.1" />
<text transform="translate(92.15,396.40) scale(1.0700,1)" font-size="10.6" font-weight="normal" fill="#000">20</text>
<line x1="142.07" y1="380.20" x2="142.07" y2="384.20" stroke="#000" stroke-width="1.1" />
<text transform="translate(135.86,396.40) scale(1.0700,1)" font-size="10.6" font-weight="normal" fill="#000">40</text>
<line x1="185.60" y1="380.20" x2="185.60" y2="384.20" stroke="#000" stroke-width="1.1" />
<text transform="translate(179.22,396.40) scale(1.0700,1)" font-size="10.6" font-weight="normal" fill="#000">60</text>
<text transform="translate(99.12,414.00) scale(0.7229,1)" font-size="12.6" font-weight="normal" fill="#000" stroke="#000" stroke-width="0.35">Time (min)</text>
<text transform="translate(20.10,343.78) rotate(-90) scale(0.7317,1)" font-size="12.2" font-weight="normal" fill="#000" stroke="#000" stroke-width="0.35">Thrombin (nM)</text>
<line x1="107.30" y1="275.70" x2="114.30" y2="275.70" stroke="#000" stroke-width="1.3" />
<text transform="translate(118.37,279.00) scale(0.9625,1)" font-size="10.0" font-weight="normal" fill="#000">no PS or TFPIα</text>
<line x1="107.30" y1="286.90" x2="114.30" y2="286.90" stroke="#e00" stroke-width="1.3" stroke-dasharray="1.3,1"/>
<text transform="translate(118.23,290.20) scale(1.0269,1)" font-size="10.0" font-weight="normal" fill="#000">100nM LG1B</text>
<text transform="translate(80.40,315.00) scale(0.9895,1)" font-size="10.0" font-weight="normal" fill="#000">TFPIα 1nM + LG1B (nM)</text>
<line x1="80.40" y1="316.60" x2="189.80" y2="316.60" stroke="#888" stroke-width="1.0" />
<line x1="155.40" y1="327.30" x2="162.00" y2="327.30" stroke="#333" stroke-width="1.3" stroke-dasharray="1.8,1.4"/>
<text transform="translate(165.88,330.80) scale(1.0600,1)" font-size="10.0" font-weight="normal" fill="#000">0</text>
<line x1="155.40" y1="338.60" x2="162.00" y2="338.60" stroke="#ff9090" stroke-width="1.3" />
<text transform="translate(165.51,342.10) scale(1.0600,1)" font-size="10.0" font-weight="normal" fill="#000">12.5</text>
<line x1="155.40" y1="349.90" x2="162.00" y2="349.90" stroke="#ff5050" stroke-width="1.3" />
<text transform="translate(165.77,353.40) scale(1.0600,1)" font-size="10.0" font-weight="normal" fill="#000">25</text>
<line x1="155.40" y1="361.20" x2="162.00" y2="361.20" stroke="#ff1010" stroke-width="1.3" />
<text transform="translate(165.88,364.70) scale(1.0600,1)" font-size="10.0" font-weight="normal" fill="#000">50</text>
<line x1="155.40" y1="372.50" x2="162.00" y2="372.50" stroke="#a00000" stroke-width="1.3" />
<text transform="translate(165.51,376.00) scale(1.0600,1)" font-size="10.0" font-weight="normal" fill="#000">100</text>
<text transform="translate(283.22,236.00) scale(1.0770,1)" font-size="15.4" font-weight="bold" fill="#000" stroke="#000" stroke-width="0.2">D</text>
<text transform="translate(378.10,236.20) scale(0.8697,1)" font-size="14.2" font-weight="bold" fill="#000">LG1C</text>
<polyline points="328.80,380.20 329.45,380.20 330.11,380.20 330.76,380.20 331.41,380.20 332.06,380.20 332.72,380.20 333.37,380.20 334.02,380.20 334.68,380.20 335.33,380.20 335.98,380.20 336.64,380.20 337.29,380.20 337.94,380.20 338.60,380.20 339.25,380.20 339.90,380.20 340.55,380.20 341.21,380.20 341.86,380.20 342.51,380.20 343.17,380.20 343.82,380.20 344.47,380.20 345.12,380.20 345.78,380.20 346.43,380.20 347.08,380.12 347.74,379.80 348.39,379.18 349.04,378.23 349.70,376.97 350.35,375.44 351.00,373.70 351.66,371.82 352.31,369.85 352.96,367.84 353.61,365.86 354.27,363.95 354.92,362.15 355.57,360.48 356.23,358.97 356.88,357.64 357.53,356.49 358.19,355.53 358.84,354.76 359.49,354.17 360.14,353.77 360.80,353.53 361.45,353.46 362.10,353.49 362.76,353.61 363.41,353.80 364.06,354.05 364.72,354.36 365.37,355.54 366.02,355.76 366.67,355.70 367.33,355.65 367.98,357.02 368.63,357.52 369.29,357.79 369.94,357.38 370.59,358.88 371.25,358.36 371.90,358.96 372.55,360.31 373.20,360.11 373.86,360.71 374.51,361.22 375.16,360.69 375.82,362.64 376.47,363.19 377.12,362.06 377.78,363.37 378.43,364.11 379.08,364.28 379.73,364.61 380.39,363.99 381.04,365.60 381.69,365.94 382.35,365.67 383.00,366.07 383.65,365.71 384.31,366.22 384.96,367.34 385.61,367.90 386.26,367.13 386.92,367.16 387.57,369.05 388.22,368.14 388.88,368.18 389.53,368.80 390.18,369.77 390.84,369.05 391.49,369.40 392.14,370.53 392.79,370.00 393.45,370.93 394.10,371.44 394.75,371.16 395.41,371.37 396.06,371.46 396.71,371.23 397.37,371.11 398.02,371.08 398.67,371.24 399.32,371.38 399.98,371.90 400.63,372.88 401.28,373.26 401.94,372.67 402.59,372.96 403.24,372.89 403.89,374.02 404.55,374.00 405.20,372.92 405.85,373.60 406.51,373.58 407.16,374.72 407.81,374.34 408.47,373.61 409.12,374.17 409.77,373.72 410.43,375.17 411.08,374.86 411.73,374.39 412.38,375.10 413.04,374.63 413.69,375.12 414.34,375.97 415.00,376.11 415.65,374.73 416.30,376.27 416.96,376.24 417.61,376.10 418.26,375.56 418.91,375.42 419.57,376.14 420.22,376.19 420.87,375.79 421.53,376.73 422.18,376.65 422.83,376.32 423.49,376.36 424.14,377.44 424.79,377.39 425.44,377.42 426.10,376.51 426.75,376.63 427.40,376.23 428.06,376.64 428.71,377.57 429.36,376.78 430.01,376.47 430.67,377.60 431.32,378.23 431.97,377.68 432.63,377.89 433.28,378.13 433.93,378.40 434.59,378.32 435.24,377.13 435.89,378.55 436.55,377.66 437.20,378.39 437.85,378.46 438.50,377.46 439.16,378.38 439.81,378.62 440.46,378.21 441.12,377.85 441.77,378.18 442.42,377.66 443.08,378.47 443.73,378.30 444.38,378.02 445.03,378.48 445.69,378.09 446.34,378.55 446.99,379.14 447.65,379.20 448.30,378.12 448.95,378.22 449.61,377.92 450.26,378.38 450.91,378.60 451.56,379.32 452.22,378.20 452.87,379.46 453.52,378.98 454.18,379.48 454.83,379.11 455.48,379.26 456.13,379.09 456.79,378.63 457.44,378.94 458.09,379.47 458.75,378.60 459.40,378.69" fill="none" stroke="#22ee22" stroke-width="0.9" stroke-linejoin="round" />
<polyline points="328.80,380.20 329.45,380.20 330.11,380.20 330.76,380.20 331.41,380.20 332.06,380.20 332.72,380.20 333.37,380.20 334.02,380.20 334.68,380.20 335.33,380.20 335.98,380.20 336.64,380.20 337.29,380.20 337.94,380.20 338.60,380.20 339.25,380.20 339.90,380.20 340.55,380.20 341.21,380.20 341.86,380.20 342.51,380.20 343.17,380.20 343.82,380.20 344.47,380.20 345.12,380.20 345.78,380.20 346.43,380.20 347.08,380.20 347.74,380.20 348.39,380.20 349.04,380.20 349.70,380.17 350.35,380.05 351.00,379.82 351.66,379.44 352.31,378.92 352.96,378.25 353.61,377.47 354.27,376.57 354.92,375.59 355.57,374.53 356.23,373.44 356.88,372.31 357.53,371.18 358.19,370.06 358.84,368.97 359.49,367.92 360.14,366.92 360.80,365.98 361.45,365.11 362.10,364.32 362.76,363.60 363.41,362.97 364.06,362.42 364.72,361.95 365.37,361.57 366.02,361.27 366.67,361.04 367.33,360.89 367.98,360.81 368.42,360.80 368.63,360.80 369.29,360.85 369.94,360.96 370.59,361.13 371.25,361.35 371.90,362.33 372.55,362.40 373.20,362.58 373.86,361.94 374.51,362.99 375.16,363.00 375.82,364.44 376.47,364.16 377.12,364.01 377.78,364.96 378.43,364.66 379.08,365.18 379.73,366.44 380.39,367.46 381.04,366.58 381.69,368.02 382.35,368.60 383.00,367.76 383.65,367.93 384.31,368.29 384.96,368.43 385.61,370.03 386.26,370.55 386.92,370.80 387.57,369.66 388.22,371.41 388.88,371.61 389.53,372.12 390.18,372.33 390.84,372.61 391.49,372.32 392.14,372.88 392.79,372.86 393.45,372.05 394.10,373.54 394.75,372.66 395.41,372.99 396.06,373.46 396.71,373.64 397.37,373.49 398.02,373.97 398.67,374.74 399.32,374.73 399.98,375.03 400.63,374.92 401.28,374.08 401.94,375.16 402.59,375.90 403.24,375.35 403.89,374.92 404.55,375.66 405.20,375.35 405.85,376.49 406.51,376.65 407.16,375.76 407.81,376.89 408.47,376.57 409.12,376.53 409.77,376.95 410.43,377.31 411.08,377.45 411.73,375.96 412.38,376.49 413.04,376.13 413.69,376.99 414.34,376.29 415.00,376.52 415.65,377.01 416.30,377.24 416.96,377.34 417.61,377.89 418.26,377.70 418.91,377.19 419.57,378.14 420.22,377.10 420.87,377.74 421.53,377.64 422.18,377.33 422.83,377.68 423.49,378.59 424.14,378.46 424.79,378.93 425.44,378.94 426.10,377.44 426.75,378.09 427.40,377.51 428.06,377.87 428.71,378.70 429.36,377.65 430.01,377.77 430.67,378.59 431.32,379.26 431.97,378.90 432.63,379.20 433.28,378.90 433.93,379.42 434.59,378.39 435.24,377.98 435.89,379.31 436.55,378.39 437.20,378.75 437.85,378.95 438.50,378.27 439.16,379.19 439.81,378.48 440.46,379.82 441.12,378.29 441.77,379.63 442.42,379.96 443.08,378.51 443.73,378.81 444.38,378.91 445.03,378.78 445.69,379.46 446.34,379.92 446.99,379.60 447.65,378.56 448.30,378.53 448.95,379.82 449.61,379.48 450.26,379.49 450.91,378.75 451.56,380.20 452.22,378.91 452.87,379.89 453.52,379.42 454.18,380.14 454.83,380.20 455.48,378.91 456.13,379.56 456.79,378.79 457.44,378.98 458.09,379.19 458.75,380.20 459.40,379.49" fill="none" stroke="#77dd77" stroke-width="0.9" stroke-linejoin="round" />
<polyline points="328.80,380.20 329.45,380.20 330.11,380.20 330.76,380.20 331.41,380.20 332.06,380.20 332.72,380.20 333.37,380.20 334.02,380.20 334.68,380.20 335.33,380.20 335.98,380.20 336.64,380.20 337.29,380.20 337.94,380.20 338.60,380.20 339.25,380.20 339.90,380.20 340.55,380.20 341.21,380.20 341.86,380.20 342.51,380.20 343.17,380.20 343.82,380.20 344.47,380.20 345.12,380.20 345.78,380.20 346.43,380.20 347.08,380.20 347.74,380.20 348.39,380.20 349.04,380.20 349.70,380.20 350.35,380.20 351.00,380.20 351.66,380.20 352.31,380.18 352.96,380.08 353.61,379.84 354.27,379.43 354.92,378.86 355.57,378.12 356.23,377.25 356.88,376.25 357.53,375.16 358.19,374.00 358.84,372.81 359.49,371.60 360.14,370.41 360.80,369.24 361.45,368.12 362.10,367.06 362.76,366.08 363.41,365.18 364.06,364.37 364.72,363.66 365.37,363.04 366.02,362.52 366.67,362.10 367.33,361.77 367.98,361.54 368.63,361.39 369.29,361.33 369.50,361.32 369.94,361.33 370.59,361.40 371.25,361.53 371.90,361.71 372.55,361.94 373.20,362.09 373.86,362.30 374.51,362.32 375.16,363.58 375.82,363.32 376.47,363.30 377.12,363.66 377.78,365.27 378.43,364.89 379.08,365.35 379.73,365.94 380.39,365.56 381.04,366.68 381.69,367.21 382.35,366.75 383.00,367.64 383.65,368.56 384.31,368.91 384.96,368.94 385.61,370.02 386.26,369.42 386.92,369.52 387.57,370.35 388.22,369.95 388.88,370.10 389.53,371.01 390.18,371.07 390.84,372.28 391.49,372.64 392.14,371.33 392.79,372.74 393.45,373.08 394.10,372.16 394.75,372.62 395.41,373.88 396.06,373.74 396.71,374.07 397.37,374.20 398.02,374.83 398.67,374.13 399.32,374.66 399.98,374.67 400.63,375.18 401.28,375.46 401.94,375.73 402.59,374.46 403.24,374.81 403.89,375.26 404.55,376.12 405.20,376.20 405.85,376.37 406.51,376.15 407.16,376.70 407.81,376.45 408.47,376.67 409.12,376.79 409.77,376.12 410.43,376.55 411.08,376.61 411.73,376.90 412.38,376.69 413.04,376.36 413.69,377.24 414.34,377.73 415.00,377.12 415.65,377.37 416.30,376.77 416.96,377.97 417.61,376.76 418.26,378.27 418.91,377.45 419.57,377.68 420.22,377.96 420.87,377.06 421.53,377.44 422.18,378.40 422.83,377.91 423.49,377.77 424.14,378.79 424.79,378.76 425.44,377.95 426.10,377.78 426.75,378.28 427.40,378.40 428.06,378.30 428.71,378.76 429.36,377.77 430.01,377.68 430.67,378.52 431.32,379.34 431.97,378.75 432.63,378.11 433.28,378.95 433.93,379.36 434.59,379.26 435.24,378.41 435.89,378.60 436.55,379.20 437.20,378.66 437.85,378.47 438.50,378.15 439.16,378.41 439.81,379.11 440.46,378.51 441.12,378.34 441.77,378.46 442.42,378.69 443.08,378.99 443.73,379.15 444.38,378.60 445.03,379.00 445.69,378.87 446.34,379.72 446.99,379.97 447.65,379.69 448.30,379.19 448.95,379.23 449.61,379.88 450.26,379.92 450.91,378.66 451.56,380.15 452.22,378.74 452.87,379.01 453.52,379.36 454.18,378.67 454.83,379.22 455.48,380.20 456.13,378.82 456.79,379.72 457.44,378.89 458.09,379.08 458.75,380.20 459.40,380.20" fill="none" stroke="#339933" stroke-width="0.9" stroke-linejoin="round" />
<polyline points="328.80,380.20 329.45,380.20 330.11,380.20 330.76,380.20 331.41,380.20 332.06,380.20 332.72,380.20 333.37,380.20 334.02,380.20 334.68,380.20 335.33,380.20 335.98,380.20 336.64,380.20 337.29,380.20 337.94,380.20 338.60,380.20 339.25,380.20 339.90,380.20 340.55,380.20 341.21,380.20 341.86,380.20 342.51,380.20 343.17,380.20 343.82,380.20 344.47,380.20 345.12,380.20 345.78,380.20 346.43,380.20 347.08,380.20 347.74,380.20 348.39,380.20 349.04,380.20 349.70,380.20 350.35,380.20 351.00,380.20 351.66,380.20 352.31,380.20 352.96,380.20 353.61,380.20 354.27,380.20 354.92,380.20 355.57,380.20 356.23,380.20 356.88,380.20 357.53,380.20 358.19,380.20 358.84,380.20 359.49,380.20 360.14,380.20 360.80,380.20 361.45,380.17 362.10,380.10 362.76,379.98 363.41,379.81 364.06,379.60 364.72,379.35 365.37,379.07 366.02,378.78 366.67,378.48 367.33,378.19 367.98,377.91 368.63,377.65 369.29,377.41 369.94,377.20 370.59,377.01 371.25,376.86 371.90,376.74 372.55,376.64 373.20,376.58 373.86,376.54 374.51,376.53 375.16,376.53 375.82,376.53 376.47,376.53 377.12,376.55 377.78,376.57 378.43,376.55 379.08,376.50 379.73,376.13 380.39,376.11 381.04,376.14 381.69,376.86 382.35,375.55 383.00,375.92 383.65,375.44 384.31,375.00 384.96,373.42 385.61,373.09 386.26,371.95 386.92,370.47 387.57,369.32 388.22,368.55 388.88,368.95 389.53,368.37 390.18,367.52 390.84,366.61 391.49,365.82 392.14,365.67 392.79,365.34 393.45,365.90 393.88,365.85 394.10,366.46 394.75,366.54 395.41,366.89 396.06,366.56 396.71,366.73 397.37,367.13 398.02,367.82 398.67,368.18 399.32,368.92 399.98,368.44 400.63,369.31 401.28,369.51 401.94,369.89 402.59,371.27 403.24,372.02 403.89,372.21 404.55,371.62 405.20,372.26 405.85,373.34 406.51,373.13 407.16,374.25 407.81,373.75 408.47,375.41 409.12,374.65 409.77,374.57 410.43,375.81 411.08,376.02 411.73,376.84 412.38,376.85 413.04,377.15 413.69,377.27 414.34,377.85 415.00,377.65 415.65,378.15 416.30,377.61 416.96,377.96 417.61,378.40 418.26,377.33 418.91,378.51 419.57,378.25 420.22,377.75 420.87,378.07 421.53,377.81 422.18,378.49 422.83,378.13 423.49,379.56 424.14,378.50 424.79,379.23 425.44,379.32 426.10,378.62 426.75,378.72 427.40,379.44 428.06,379.45 428.71,379.63 429.36,378.57 430.01,379.15 430.67,379.78 431.32,379.36 431.97,380.18 432.63,379.86 433.28,379.50 433.93,378.74 434.59,378.96 435.24,379.50 435.89,379.16 436.55,380.04 437.20,379.32 437.85,378.84 438.50,380.20 439.16,378.98 439.81,378.91 440.46,379.97 441.12,379.24 441.77,378.96 442.42,380.20 443.08,379.87 443.73,379.67 444.38,379.35 445.03,380.20 445.69,379.44 446.34,379.54 446.99,379.29 447.65,379.51 448.30,379.31 448.95,379.75 449.61,379.86 450.26,380.01 450.91,380.11 451.56,380.02 452.22,379.98 452.87,380.16 453.52,380.20 454.18,380.17 454.83,379.26 455.48,380.20 456.13,379.21 456.79,379.47 457.44,380.11 458.09,380.20 458.75,379.41 459.40,379.28" fill="none" stroke="#2a6a2a" stroke-width="0.9" stroke-linejoin="round" />
<polyline points="328.80,380.20 329.45,380.20 330.11,380.20 330.76,380.20 331.41,380.20 332.06,380.20 332.72,380.20 333.37,380.20 334.02,380.20 334.68,380.20 335.33,380.20 335.98,380.20 336.64,380.20 337.29,380.20 337.94,380.20 338.60,380.20 339.25,380.20 339.90,380.20 340.55,380.20 341.21,380.20 341.86,380.20 342.51,380.20 343.17,380.20 343.82,380.20 344.47,380.20 345.12,380.20 345.78,379.90 346.43,378.47 347.08,376.14 347.74,373.18 348.39,369.81 349.04,366.19 349.70,362.47 350.35,358.76 351.00,355.15 351.66,351.70 352.31,348.47 352.96,345.50 353.61,342.80 354.27,340.39 354.92,338.28 355.57,336.46 356.23,334.94 356.88,333.70 357.53,332.73 358.19,332.03 358.84,331.56 359.49,331.32 359.93,331.27 360.14,331.27 360.80,331.28 361.45,331.32 362.10,331.42 362.76,331.63 363.41,331.94 364.06,332.38 364.72,332.95 365.37,333.65 366.02,334.46 366.67,335.39 367.33,336.43 367.98,337.57 368.63,338.79 369.29,340.08 369.94,341.44 370.59,342.85 371.25,344.31 371.90,345.80 372.55,347.31 373.20,348.84 373.86,350.37 374.51,351.90 375.16,353.41 375.82,354.90 376.47,356.37 377.12,357.81 377.78,359.21 378.43,360.57 379.08,361.88 379.73,363.15 380.39,364.36 381.04,365.52 381.69,366.63 382.35,367.68 383.00,368.68 383.65,369.62 384.31,370.50 384.96,371.33 385.61,372.11 386.26,372.83 386.92,373.51 387.57,374.13 388.22,374.71 388.88,375.25 389.53,375.74 390.18,376.19 390.84,376.60 391.49,376.98 392.14,377.32 392.79,377.63 393.45,377.92 394.10,378.17 394.75,378.40 395.41,378.61 396.06,378.80 396.71,378.97 397.37,379.11 398.02,379.25 398.67,379.37 399.32,379.47 399.98,379.56 400.63,379.65 401.28,379.72 401.94,379.78 402.59,379.84 403.24,379.89 403.89,379.93 404.55,379.97 405.20,380.00 405.85,380.03 406.51,380.05 407.16,380.08 407.81,380.09 408.47,380.11 409.12,380.12 409.77,380.14 410.43,380.15 411.08,380.15 411.73,380.16 412.38,380.17 413.04,380.17 413.69,380.18 414.34,380.18 415.00,380.18 415.65,380.19 416.30,380.19 416.96,380.19 417.61,380.19 418.26,380.19 418.91,380.19 419.57,380.20 420.22,380.20 420.87,380.20 421.53,380.20 422.18,380.20 422.83,380.20 423.49,380.20 424.14,380.20 424.79,380.20 425.44,380.20 426.10,380.20 426.75,380.20 427.40,380.20 428.06,380.20 428.71,380.20 429.36,380.20 430.01,380.20 430.67,380.20 431.32,380.20 431.97,380.20 432.63,380.20 433.28,380.20 433.93,380.20 434.59,380.20 435.24,380.20 435.89,380.20 436.55,380.20 437.20,380.20 437.85,380.20 438.50,380.20 439.16,380.20 439.81,380.20 440.46,380.20 441.12,380.20 441.77,380.20 442.42,380.20 443.08,380.20 443.73,380.20 444.38,380.20 445.03,380.20 445.69,380.20 446.34,380.20 446.99,380.20 447.65,380.20 448.30,380.20 448.95,380.20 449.61,380.20 450.26,380.20 450.91,380.20 451.56,380.20 452.22,380.20 452.87,380.20 453.52,380.20 454.18,380.20 454.83,380.20 455.48,380.20 456.13,380.20 456.79,380.20 457.44,380.20 458.09,380.20 458.75,380.20 459.40,380.20" fill="none" stroke="#333" stroke-width="1.1" stroke-linejoin="round" stroke-dasharray="1.8,1.4"/>
<polyline points="328.80,380.20 329.45,380.20 330.11,380.20 330.76,380.20 331.41,380.20 332.06,380.20 332.72,380.20 333.37,380.20 334.02,380.20 334.68,380.20 335.33,380.20 335.98,375.82 336.64,367.63 337.29,358.62 337.94,349.07 338.60,339.12 339.25,328.84 339.90,318.29 340.55,307.49 341.21,296.48 341.86,285.28 342.51,273.90 342.73,270.08 343.17,278.22 343.82,294.00 344.47,306.73 345.12,316.74 345.78,324.65 346.43,330.41 347.08,337.38 347.74,339.93 348.39,342.72 349.04,345.69 349.70,349.23 350.35,351.07 351.00,353.83 351.66,355.06 352.31,357.94 352.96,357.55 353.61,359.10 354.27,361.30 354.92,362.11 355.57,362.01 356.23,363.90 356.88,363.18 357.53,363.99 358.19,365.20 358.84,368.31 359.49,369.06 360.14,369.06 360.80,369.46 361.45,368.98 362.10,369.16 362.76,370.52 363.41,370.79 364.06,371.47 364.72,373.62 365.37,372.50 366.02,373.89 366.67,373.63 367.33,375.28 367.98,373.59 368.63,373.11 369.29,376.07 369.94,374.75 370.59,376.78 371.25,376.00 371.90,376.86 372.55,374.89 373.20,375.52 373.86,375.20 374.51,377.54 375.16,376.15 375.82,376.39 376.47,377.15 377.12,376.04 377.78,377.11 378.43,378.32 379.08,377.09 379.73,377.96 380.39,378.93 381.04,377.77 381.69,379.67 382.35,378.52 383.00,378.27 383.65,380.11 384.31,378.17 384.96,380.01 385.61,378.32 386.26,379.37 386.92,380.20 387.57,377.44 388.22,380.20 388.88,380.20 389.53,379.17 390.18,380.04 390.84,379.20 391.49,379.42 392.14,379.15 392.79,379.29 393.45,380.12 394.10,380.20 394.75,378.93 395.41,379.80 396.06,379.55 396.71,378.34 397.37,380.20 398.02,380.20 398.67,379.53 399.32,380.20 399.98,378.98 400.63,380.11 401.28,380.20 401.94,380.20 402.59,378.39 403.24,380.20 403.89,378.88 404.55,379.27 405.20,378.68 405.85,379.31 406.51,380.20 407.16,379.81 407.81,378.65 408.47,380.20 409.12,378.90 409.77,379.47 410.43,380.20 411.08,378.56 411.73,380.20 412.38,380.20 413.04,380.20 413.69,380.02 414.34,380.20 415.00,379.79 415.65,380.20 416.30,380.20 416.96,379.29 417.61,379.73 418.26,378.64 418.91,378.95 419.57,378.98 420.22,378.76 420.87,379.03 421.53,380.17 422.18,380.20 422.83,380.20 423.49,379.76 424.14,378.67 424.79,379.66 425.44,379.92 426.10,380.20 426.75,379.68 427.40,380.20 428.06,380.20 428.71,380.20 429.36,379.43 430.01,378.78 430.67,379.87 431.32,380.20 431.97,379.42 432.63,380.20 433.28,379.51 433.93,379.62 434.59,378.78 435.24,380.20 435.89,380.20 436.55,380.20 437.20,380.20 437.85,378.78 438.50,379.80 439.16,380.20 439.81,380.20 440.46,380.20 441.12,378.73 441.77,380.20 442.42,380.20 443.08,379.43 443.73,380.20 444.38,379.72 445.03,379.30 445.69,380.20 446.34,380.05 446.99,378.78 447.65,380.20 448.30,380.20 448.95,379.65 449.61,380.20 450.26,379.19 450.91,379.24 451.56,378.79 452.22,379.15 452.87,379.94 453.52,380.20 454.18,380.08 454.83,379.77 455.48,378.70 456.13,380.20 456.79,380.20 457.44,380.20 458.09,380.20 458.75,380.20 459.40,379.30" fill="none" stroke="#22aa22" stroke-width="1.1" stroke-linejoin="round" stroke-dasharray="1.6,1.1"/>
<polyline points="328.80,380.20 329.45,380.20 330.11,380.20 330.76,380.20 331.41,380.20 332.06,380.20 332.72,380.20 333.37,380.20 334.02,380.20 334.68,380.20 335.33,380.20 335.98,372.97 336.64,364.15 337.29,354.61 337.94,344.58 338.60,334.16 339.25,323.42 339.90,312.41 340.55,301.15 341.21,289.69 341.86,278.03 342.51,266.19 342.73,262.21 343.17,271.37 343.82,289.20 344.47,303.67 345.12,315.13 345.78,324.25 346.43,332.04 347.08,336.20 347.74,341.16 348.39,345.34 349.04,349.11 349.70,351.81 350.35,356.71 351.00,357.20 351.66,360.17 352.31,360.58 352.96,362.93 353.61,363.96 354.27,365.26 354.92,366.31 355.57,366.66 356.23,367.19 356.88,369.80 357.53,369.34 358.19,369.85 358.84,371.89 359.49,373.25 360.14,372.82 360.80,372.63 361.45,373.78 362.10,375.17 362.76,374.18 363.41,375.61 364.06,374.45 364.72,376.74 365.37,375.90 366.02,376.76 366.67,375.40 367.33,377.96 367.98,376.17 368.63,377.65 369.29,377.97 369.94,378.60 370.59,378.00 371.25,376.97 371.90,376.93 372.55,377.23 373.20,378.25 373.86,379.39 374.51,378.77 375.16,378.48 375.82,379.54 376.47,377.74 377.12,380.20 377.78,379.95 378.43,380.11 379.08,380.20 379.73,380.20 380.39,380.19 381.04,379.88 381.69,378.38 382.35,379.50 383.00,379.33 383.65,380.12 384.31,380.20 384.96,379.60 385.61,379.18 386.26,380.20 386.92,379.45 387.57,380.20 388.22,379.39 388.88,380.20 389.53,380.20 390.18,380.20 390.84,379.19 391.49,379.89 392.14,380.20 392.79,378.92 393.45,380.20 394.10,380.20 394.75,380.20 395.41,380.20 396.06,379.92 396.71,379.00 397.37,380.20 398.02,380.11 398.67,380.20 399.32,379.61 399.98,380.20 400.63,380.20 401.28,380.20 401.94,379.27 402.59,378.83 403.24,380.20 403.89,380.20 404.55,380.20 405.20,379.48 405.85,379.05 406.51,380.20 407.16,379.67 407.81,380.20 408.47,380.20 409.12,379.98 409.77,380.20 410.43,379.76 411.08,380.20 411.73,380.19 412.38,380.20 413.04,380.20 413.69,380.20 414.34,380.20 415.00,380.20 415.65,379.86 416.30,380.20 416.96,380.20 417.61,379.11 418.26,380.20 418.91,380.11 419.57,379.89 420.22,379.83 420.87,379.48 421.53,380.20 422.18,379.03 422.83,379.74 423.49,380.20 424.14,379.91 424.79,380.15 425.44,379.01 426.10,379.58 426.75,379.72 427.40,379.71 428.06,379.63 428.71,380.20 429.36,380.20 430.01,380.11 430.67,380.20 431.32,380.17 431.97,380.20 432.63,380.20 433.28,380.02 433.93,379.78 434.59,380.20 435.24,380.00 435.89,380.20 436.55,378.90 437.20,379.75 437.85,379.65 438.50,379.55 439.16,380.20 439.81,380.20 440.46,380.20 441.12,380.20 441.77,380.20 442.42,380.15 443.08,379.85 443.73,379.53 444.38,379.67 445.03,380.20 445.69,379.25 446.34,379.35 446.99,378.94 447.65,380.20 448.30,379.99 448.95,380.20 449.61,379.21 450.26,378.99 450.91,379.74 451.56,380.20 452.22,379.18 452.87,380.17 453.52,379.67 454.18,380.20 454.83,380.20 455.48,379.29 456.13,379.22 456.79,380.20 457.44,380.20 458.09,380.20 458.75,379.08 459.40,380.20" fill="none" stroke="#333" stroke-width="0.9" stroke-linejoin="round" />
<line x1="328.80" y1="249.10" x2="328.80" y2="384.20" stroke="#000" stroke-width="1.4" />
<line x1="324.80" y1="380.20" x2="459.90" y2="380.20" stroke="#000" stroke-width="1.3" />
<line x1="324.80" y1="380.20" x2="328.80" y2="380.20" stroke="#000" stroke-width="1.1" />
<text transform="translate(314.10,383.90) scale(1.0700,1)" font-size="10.6" font-weight="normal" fill="#000">0</text>
<line x1="324.80" y1="353.98" x2="328.80" y2="353.98" stroke="#000" stroke-width="1.1" />
<text transform="translate(307.81,357.68) scale(1.0700,1)" font-size="10.6" font-weight="normal" fill="#000">50</text>
<line x1="324.80" y1="327.76" x2="328.80" y2="327.76" stroke="#000" stroke-width="1.1" />
<text transform="translate(301.51,331.46) scale(1.0700,1)" font-size="10.6" font-weight="normal" fill="#000">100</text>
<line x1="324.80" y1="301.54" x2="328.80" y2="301.54" stroke="#000" stroke-width="1.1" />
<text transform="translate(301.51,305.24) scale(1.0700,1)" font-size="10.6" font-weight="normal" fill="#000">150</text>
<line x1="324.80" y1="275.32" x2="328.80" y2="275.32" stroke="#000" stroke-width="1.1" />
<text transform="translate(301.51,279.02) scale(1.0700,1)" font-size="10.6" font-weight="normal" fill="#000">200</text>
<line x1="324.80" y1="249.10" x2="328.80" y2="249.10" stroke="#000" stroke-width="1.1" />
<text transform="translate(301.51,252.80) scale(1.0700,1)" font-size="10.6" font-weight="normal" fill="#000">250</text>
<line x1="328.80" y1="380.20" x2="328.80" y2="384.20" stroke="#000" stroke-width="1.1" />
<text transform="translate(325.62,396.40) scale(1.0700,1)" font-size="10.6" font-weight="normal" fill="#000">0</text>
<line x1="372.33" y1="380.20" x2="372.33" y2="384.20" stroke="#000" stroke-width="1.1" />
<text transform="translate(365.95,396.40) scale(1.0700,1)" font-size="10.6" font-weight="normal" fill="#000">20</text>
<line x1="415.87" y1="380.20" x2="415.87" y2="384.20" stroke="#000" stroke-width="1.1" />
<text transform="translate(409.66,396.40) scale(1.0700,1)" font-size="10.6" font-weight="normal" fill="#000">40</text>
<line x1="459.40" y1="380.20" x2="459.40" y2="384.20" stroke="#000" stroke-width="1.1" />
<text transform="translate(453.02,396.40) scale(1.0700,1)" font-size="10.6" font-weight="normal" fill="#000">60</text>
<text transform="translate(372.92,414.00) scale(0.7229,1)" font-size="12.6" font-weight="normal" fill="#000" stroke="#000" stroke-width="0.35">Time (min)</text>
<text transform="translate(293.90,343.78) rotate(-90) scale(0.7317,1)" font-size="12.2" font-weight="normal" fill="#000" stroke="#000" stroke-width="0.35">Thrombin (nM)</text>
<line x1="381.10" y1="275.70" x2="388.10" y2="275.70" stroke="#000" stroke-width="1.3" />
<text transform="translate(392.17,279.00) scale(0.9625,1)" font-size="10.0" font-weight="normal" fill="#000">no PS or TFPIα</text>
<line x1="381.10" y1="286.90" x2="388.10" y2="286.90" stroke="#2a2" stroke-width="1.3" stroke-dasharray="1.3,1"/>
<text transform="translate(392.04,290.20) scale(1.0146,1)" font-size="10.0" font-weight="normal" fill="#000">100nM LG1C</text>
<text transform="translate(354.20,315.00) scale(0.9936,1)" font-size="10.0" font-weight="normal" fill="#000">TFPIα 1nM + LG1C (nM)</text>
<line x1="354.20" y1="316.60" x2="464.60" y2="316.60" stroke="#888" stroke-width="1.0" />
<line x1="429.20" y1="327.30" x2="435.80" y2="327.30" stroke="#333" stroke-width="1.3" stroke-dasharray="1.8,1.4"/>
<text transform="translate(439.68,330.80) scale(1.0600,1)" font-size="10.0" font-weight="normal" fill="#000">0</text>
<line x1="429.20" y1="338.60" x2="435.80" y2="338.60" stroke="#22ee22" stroke-width="1.3" />
<text transform="translate(439.31,342.10) scale(1.0600,1)" font-size="10.0" font-weight="normal" fill="#000">12.5</text>
<line x1="429.20" y1="349.90" x2="435.80" y2="349.90" stroke="#66dd66" stroke-width="1.3" />
<text transform="translate(439.57,353.40) scale(1.0600,1)" font-size="10.0" font-weight="normal" fill="#000">25</text>
<line x1="429.20" y1="361.20" x2="435.80" y2="361.20" stroke="#339933" stroke-width="1.3" />
<text transform="translate(439.68,364.70) scale(1.0600,1)" font-size="10.0" font-weight="normal" fill="#000">50</text>
<line x1="429.20" y1="372.50" x2="435.80" y2="372.50" stroke="#225522" stroke-width="1.3" />
<text transform="translate(439.31,376.00) scale(1.0600,1)" font-size="10.0" font-weight="normal" fill="#000">100</text>
<text transform="translate(9.31,450.80) scale(0.9884,1)" font-size="15.4" font-weight="bold" fill="#000" stroke="#000" stroke-width="0.2">E</text>
<line x1="55.00" y1="464.34" x2="55.00" y2="599.50" stroke="#000" stroke-width="1.4" />
<line x1="54.30" y1="595.50" x2="186.40" y2="595.50" stroke="#000" stroke-width="1.3" />
<line x1="51.00" y1="580.90" x2="55.00" y2="580.90" stroke="#000" stroke-width="1.1" />
<text transform="translate(27.81,584.60) scale(1.0700,1)" font-size="10.6" font-weight="normal" fill="#000">100</text>
<line x1="51.00" y1="551.76" x2="55.00" y2="551.76" stroke="#000" stroke-width="1.1" />
<text transform="translate(27.81,555.46) scale(1.0700,1)" font-size="10.6" font-weight="normal" fill="#000">150</text>
<line x1="51.00" y1="522.62" x2="55.00" y2="522.62" stroke="#000" stroke-width="1.1" />
<text transform="translate(27.81,526.32) scale(1.0700,1)" font-size="10.6" font-weight="normal" fill="#000">200</text>
<line x1="51.00" y1="493.48" x2="55.00" y2="493.48" stroke="#000" stroke-width="1.1" />
<text transform="translate(27.81,497.18) scale(1.0700,1)" font-size="10.6" font-weight="normal" fill="#000">250</text>
<line x1="51.00" y1="464.34" x2="55.00" y2="464.34" stroke="#000" stroke-width="1.1" />
<text transform="translate(27.81,468.04) scale(1.0700,1)" font-size="10.6" font-weight="normal" fill="#000">300</text>
<line x1="55.00" y1="595.50" x2="55.00" y2="599.50" stroke="#000" stroke-width="1.1" />
<text transform="translate(51.82,612.00) scale(1.0700,1)" font-size="10.6" font-weight="normal" fill="#000">0</text>
<line x1="86.30" y1="595.50" x2="86.30" y2="599.50" stroke="#000" stroke-width="1.1" />
<text transform="translate(79.95,612.00) scale(1.0700,1)" font-size="10.6" font-weight="normal" fill="#000">25</text>
<line x1="117.60" y1="595.50" x2="117.60" y2="599.50" stroke="#000" stroke-width="1.1" />
<text transform="translate(111.28,612.00) scale(1.0700,1)" font-size="10.6" font-weight="normal" fill="#000">50</text>
<line x1="148.90" y1="595.50" x2="148.90" y2="599.50" stroke="#000" stroke-width="1.1" />
<text transform="translate(142.55,612.00) scale(1.0700,1)" font-size="10.6" font-weight="normal" fill="#000">75</text>
<line x1="180.20" y1="595.50" x2="180.20" y2="599.50" stroke="#000" stroke-width="1.1" />
<text transform="translate(170.53,612.00) scale(1.0700,1)" font-size="10.6" font-weight="normal" fill="#000">100</text>
<text transform="translate(91.18,629.20) scale(0.7291,1)" font-size="12.4" font-weight="normal" fill="#000" stroke="#000" stroke-width="0.35">Protein S (nM)</text>
<text transform="translate(19.90,577.88) rotate(-90) scale(0.8101,1)" font-size="11.2" font-weight="normal" fill="#000" stroke="#000" stroke-width="0.35">Normalised lag time (%)</text>
<polyline points="55.00,580.90 57.12,580.65 59.24,580.40 61.37,580.14 63.49,579.89 65.61,579.64 67.73,579.39 69.85,579.14 71.98,578.88 74.10,578.63 76.22,578.38 78.34,578.13 80.46,577.88 82.59,577.63 84.71,577.37 86.83,577.12 88.95,576.87 91.07,576.62 93.20,576.37 95.32,576.11 97.44,575.86 99.56,575.61 101.68,575.36 103.81,575.11 105.93,574.85 108.05,574.60 110.17,574.35 112.29,574.10 114.42,573.85 116.54,573.60 118.66,573.34 120.78,573.09 122.91,572.84 125.03,572.59 127.15,572.34 129.27,572.08 131.39,571.83 133.52,571.58 135.64,571.33 137.76,571.08 139.88,570.82 142.00,570.57 144.13,570.32 146.25,570.07 148.37,569.82 150.49,569.57 152.61,569.31 154.74,569.06 156.86,568.81 158.98,568.56 161.10,568.31 163.22,568.05 165.35,567.80 167.47,567.55 169.59,567.30 171.71,567.05 173.83,566.79 175.96,566.54 178.08,566.29 180.20,566.04" fill="none" stroke="#cc1133" stroke-width="1.6" stroke-linejoin="round" />
<polyline points="55.00,580.90 57.12,579.50 59.24,578.13 61.37,576.77 63.49,575.44 65.61,574.13 67.73,572.83 69.85,571.56 71.98,570.30 74.10,569.06 76.22,567.84 78.34,566.63 80.46,565.45 82.59,564.28 84.71,563.12 86.83,561.99 88.95,560.86 91.07,559.76 93.20,558.67 95.32,557.59 97.44,556.53 99.56,555.48 101.68,554.44 103.81,553.42 105.93,552.42 108.05,551.42 110.17,550.44 112.29,549.47 114.42,548.51 116.54,547.57 118.66,546.64 120.78,545.72 122.91,544.81 125.03,543.91 127.15,543.02 129.27,542.14 131.39,541.28 133.52,540.42 135.64,539.58 137.76,538.74 139.88,537.92 142.00,537.10 144.13,536.29 146.25,535.50 148.37,534.71 150.49,533.93 152.61,533.16 154.74,532.40 156.86,531.65 158.98,530.90 161.10,530.17 163.22,529.44 165.35,528.72 167.47,528.01 169.59,527.31 171.71,526.61 173.83,525.92 175.96,525.24 178.08,524.57 180.20,523.90" fill="none" stroke="#000" stroke-width="1.6" stroke-linejoin="round" />
<polyline points="55.00,580.90 57.12,578.78 59.24,576.73 61.37,574.76 63.49,572.85 65.61,571.01 67.73,569.23 69.85,567.50 71.98,565.84 74.10,564.22 76.22,562.65 78.34,561.14 80.46,559.66 82.59,558.23 84.71,556.85 86.83,555.50 88.95,554.19 91.07,552.92 93.20,551.68 95.32,550.48 97.44,549.31 99.56,548.17 101.68,547.06 103.81,545.98 105.93,544.92 108.05,543.90 110.17,542.89 112.29,541.92 114.42,540.96 116.54,540.03 118.66,539.12 120.78,538.24 122.91,537.37 125.03,536.52 127.15,535.69 129.27,534.89 131.39,534.09 133.52,533.32 135.64,532.56 137.76,531.82 139.88,531.10 142.00,530.39 144.13,529.69 146.25,529.01 148.37,528.34 150.49,527.69 152.61,527.05 154.74,526.42 156.86,525.80 158.98,525.20 161.10,524.60 163.22,524.02 165.35,523.45 167.47,522.89 169.59,522.34 171.71,521.80 173.83,521.27 175.96,520.75 178.08,520.24 180.20,519.74" fill="none" stroke="#33aa44" stroke-width="1.6" stroke-linejoin="round" />
<polyline points="55.00,580.90 57.12,578.85 59.24,576.83 61.37,574.84 63.49,572.89 65.61,570.96 67.73,569.06 69.85,567.18 71.98,565.34 74.10,563.52 76.22,561.72 78.34,559.96 80.46,558.21 82.59,556.49 84.71,554.80 86.83,553.13 88.95,551.48 91.07,549.85 93.20,548.25 95.32,546.67 97.44,545.11 99.56,543.57 101.68,542.05 103.81,540.55 105.93,539.07 108.05,537.60 110.17,536.16 112.29,534.74 114.42,533.33 116.54,531.94 118.66,530.57 120.78,529.22 122.91,527.88 125.03,526.56 127.15,525.25 129.27,523.96 131.39,522.69 133.52,521.43 135.64,520.19 137.76,518.96 139.88,517.75 142.00,516.55 144.13,515.36 146.25,514.19 148.37,513.03 150.49,511.88 152.61,510.75 154.74,509.63 156.86,508.53 158.98,507.43 161.10,506.35 163.22,505.28 165.35,504.22 167.47,503.17 169.59,502.14 171.71,501.11 173.83,500.10 175.96,499.10 178.08,498.10 180.20,497.12" fill="none" stroke="#0a0aff" stroke-width="1.6" stroke-linejoin="round" />
<polygon points="55.00,577.60 58.30,583.54 51.70,583.54" fill="#cc1133"/>
<line x1="70.65" y1="578.57" x2="70.65" y2="580.90" stroke="#cc1133" stroke-width="1.2" />
<line x1="67.65" y1="578.57" x2="73.65" y2="578.57" stroke="#cc1133" stroke-width="1.2" />
<line x1="67.65" y1="580.90" x2="73.65" y2="580.90" stroke="#cc1133" stroke-width="1.2" />
<polygon points="70.65,576.43 73.95,582.37 67.35,582.37" fill="#cc1133"/>
<line x1="86.30" y1="576.82" x2="86.30" y2="579.73" stroke="#cc1133" stroke-width="1.2" />
<line x1="83.30" y1="576.82" x2="89.30" y2="576.82" stroke="#cc1133" stroke-width="1.2" />
<line x1="83.30" y1="579.73" x2="89.30" y2="579.73" stroke="#cc1133" stroke-width="1.2" />
<polygon points="86.30,575.27 89.60,581.21 83.00,581.21" fill="#cc1133"/>
<line x1="117.60" y1="569.83" x2="117.60" y2="577.40" stroke="#cc1133" stroke-width="1.2" />
<line x1="114.60" y1="569.83" x2="120.60" y2="569.83" stroke="#cc1133" stroke-width="1.2" />
<line x1="114.60" y1="577.40" x2="120.60" y2="577.40" stroke="#cc1133" stroke-width="1.2" />
<polygon points="117.60,571.19 120.90,577.13 114.30,577.13" fill="#cc1133"/>
<line x1="180.20" y1="558.75" x2="180.20" y2="572.16" stroke="#cc1133" stroke-width="1.2" />
<line x1="177.20" y1="558.75" x2="183.20" y2="558.75" stroke="#cc1133" stroke-width="1.2" />
<line x1="177.20" y1="572.16" x2="183.20" y2="572.16" stroke="#cc1133" stroke-width="1.2" />
<polygon points="180.20,563.03 183.50,568.97 176.90,568.97" fill="#cc1133"/>
<polygon points="55.00,584.20 58.30,578.26 51.70,578.26" fill="#33aa44"/>
<line x1="70.65" y1="566.91" x2="70.65" y2="575.07" stroke="#33aa44" stroke-width="1.2" />
<line x1="67.65" y1="566.91" x2="73.65" y2="566.91" stroke="#33aa44" stroke-width="1.2" />
<line x1="67.65" y1="575.07" x2="73.65" y2="575.07" stroke="#33aa44" stroke-width="1.2" />
<polygon points="70.65,571.96 73.95,566.02 67.35,566.02" fill="#33aa44"/>
<line x1="86.30" y1="554.09" x2="86.30" y2="569.24" stroke="#33aa44" stroke-width="1.2" />
<line x1="83.30" y1="554.09" x2="89.30" y2="554.09" stroke="#33aa44" stroke-width="1.2" />
<line x1="83.30" y1="569.24" x2="89.30" y2="569.24" stroke="#33aa44" stroke-width="1.2" />
<polygon points="86.30,560.89 89.60,554.95 83.00,554.95" fill="#33aa44"/>
<line x1="117.60" y1="519.41" x2="117.60" y2="551.41" stroke="#33aa44" stroke-width="1.2" />
<line x1="114.60" y1="519.41" x2="120.60" y2="519.41" stroke="#33aa44" stroke-width="1.2" />
<line x1="114.60" y1="551.41" x2="120.60" y2="551.41" stroke="#33aa44" stroke-width="1.2" />
<polygon points="117.60,542.82 120.90,536.88 114.30,536.88" fill="#33aa44"/>
<line x1="180.20" y1="507.47" x2="180.20" y2="530.78" stroke="#33aa44" stroke-width="1.2" />
<line x1="177.20" y1="507.47" x2="183.20" y2="507.47" stroke="#33aa44" stroke-width="1.2" />
<line x1="177.20" y1="530.78" x2="183.20" y2="530.78" stroke="#33aa44" stroke-width="1.2" />
<polygon points="180.20,523.01 183.50,517.07 176.90,517.07" fill="#33aa44"/>
<rect x="52.10" y="578.00" width="5.80" height="5.80" fill="#0a0aff"/>
<line x1="70.65" y1="561.67" x2="70.65" y2="570.41" stroke="#0a0aff" stroke-width="1.2" />
<line x1="67.65" y1="561.67" x2="73.65" y2="561.67" stroke="#0a0aff" stroke-width="1.2" />
<line x1="67.65" y1="570.41" x2="73.65" y2="570.41" stroke="#0a0aff" stroke-width="1.2" />
<rect x="67.75" y="563.20" width="5.80" height="5.80" fill="#0a0aff"/>
<line x1="86.30" y1="542.73" x2="86.30" y2="557.59" stroke="#0a0aff" stroke-width="1.2" />
<line x1="83.30" y1="542.73" x2="89.30" y2="542.73" stroke="#0a0aff" stroke-width="1.2" />
<line x1="83.30" y1="557.59" x2="89.30" y2="557.59" stroke="#0a0aff" stroke-width="1.2" />
<rect x="83.40" y="548.28" width="5.80" height="5.80" fill="#0a0aff"/>
<line x1="117.60" y1="523.79" x2="117.60" y2="540.10" stroke="#0a0aff" stroke-width="1.2" />
<line x1="114.60" y1="523.79" x2="120.60" y2="523.79" stroke="#0a0aff" stroke-width="1.2" />
<line x1="114.60" y1="540.10" x2="120.60" y2="540.10" stroke="#0a0aff" stroke-width="1.2" />
<rect x="114.70" y="530.79" width="5.80" height="5.80" fill="#0a0aff"/>
<line x1="180.20" y1="482.99" x2="180.20" y2="509.80" stroke="#0a0aff" stroke-width="1.2" />
<line x1="177.20" y1="482.99" x2="183.20" y2="482.99" stroke="#0a0aff" stroke-width="1.2" />
<line x1="177.20" y1="509.80" x2="183.20" y2="509.80" stroke="#0a0aff" stroke-width="1.2" />
<rect x="177.30" y="495.42" width="5.80" height="5.80" fill="#0a0aff"/>
<circle cx="55.00" cy="580.90" r="3.00" fill="#000"/>
<line x1="70.65" y1="570.41" x2="70.65" y2="577.40" stroke="#000" stroke-width="1.2" />
<line x1="67.65" y1="570.41" x2="73.65" y2="570.41" stroke="#000" stroke-width="1.2" />
<line x1="67.65" y1="577.40" x2="73.65" y2="577.40" stroke="#000" stroke-width="1.2" />
<circle cx="70.65" cy="572.74" r="3.00" fill="#000"/>
<line x1="86.30" y1="557.59" x2="86.30" y2="569.54" stroke="#000" stroke-width="1.2" />
<line x1="83.30" y1="557.59" x2="89.30" y2="557.59" stroke="#000" stroke-width="1.2" />
<line x1="83.30" y1="569.54" x2="89.30" y2="569.54" stroke="#000" stroke-width="1.2" />
<circle cx="86.30" cy="562.25" r="3.00" fill="#000"/>
<line x1="117.60" y1="537.19" x2="117.60" y2="555.26" stroke="#000" stroke-width="1.2" />
<line x1="114.60" y1="537.19" x2="120.60" y2="537.19" stroke="#000" stroke-width="1.2" />
<line x1="114.60" y1="555.26" x2="120.60" y2="555.26" stroke="#000" stroke-width="1.2" />
<circle cx="117.60" cy="544.48" r="3.00" fill="#000"/>
<line x1="180.20" y1="512.71" x2="180.20" y2="535.44" stroke="#000" stroke-width="1.2" />
<line x1="177.20" y1="512.71" x2="183.20" y2="512.71" stroke="#000" stroke-width="1.2" />
<line x1="177.20" y1="535.44" x2="183.20" y2="535.44" stroke="#000" stroke-width="1.2" />
<circle cx="180.20" cy="523.79" r="3.00" fill="#000"/>
<line x1="195.10" y1="469.60" x2="206.50" y2="469.60" stroke="#0a0aff" stroke-width="1.3" />
<rect x="198.34" y="467.14" width="4.93" height="4.93" fill="#0a0aff"/>
<text transform="translate(209.99,473.10) scale(1.0101,1)" font-size="10.0" font-weight="normal" fill="#000">LG1A</text>
<line x1="195.10" y1="485.50" x2="206.50" y2="485.50" stroke="#33aa44" stroke-width="1.3" />
<polygon points="200.80,488.31 203.61,483.26 198.00,483.26" fill="#33aa44"/>
<text transform="translate(210.00,489.00) scale(1.0020,1)" font-size="10.0" font-weight="normal" fill="#000">LG1C</text>
<line x1="195.10" y1="501.40" x2="206.50" y2="501.40" stroke="#000" stroke-width="1.3" />
<circle cx="200.80" cy="501.40" r="2.55" fill="#000"/>
<text transform="translate(210.75,504.90) scale(0.9935,1)" font-size="10.0" font-weight="normal" fill="#000">WT</text>
<line x1="195.10" y1="517.30" x2="206.50" y2="517.30" stroke="#cc1133" stroke-width="1.3" />
<polygon points="200.80,514.50 203.61,519.54 198.00,519.54" fill="#cc1133"/>
<text transform="translate(209.98,520.80) scale(1.0309,1)" font-size="10.0" font-weight="normal" fill="#000">LG1B</text>
<text transform="translate(283.20,450.80) scale(1.0950,1)" font-size="15.4" font-weight="bold" fill="#000" stroke="#000" stroke-width="0.2">F</text>
<line x1="329.00" y1="464.20" x2="329.00" y2="599.50" stroke="#000" stroke-width="1.4" />
<line x1="328.30" y1="595.50" x2="460.40" y2="595.50" stroke="#000" stroke-width="1.3" />
<line x1="325.00" y1="572.50" x2="329.00" y2="572.50" stroke="#000" stroke-width="1.1" />
<text transform="translate(307.91,576.20) scale(1.0700,1)" font-size="10.6" font-weight="normal" fill="#000">40</text>
<line x1="325.00" y1="541.80" x2="329.00" y2="541.80" stroke="#000" stroke-width="1.1" />
<text transform="translate(307.91,545.50) scale(1.0700,1)" font-size="10.6" font-weight="normal" fill="#000">60</text>
<line x1="325.00" y1="511.10" x2="329.00" y2="511.10" stroke="#000" stroke-width="1.1" />
<text transform="translate(307.91,514.80) scale(1.0700,1)" font-size="10.6" font-weight="normal" fill="#000">80</text>
<line x1="325.00" y1="480.40" x2="329.00" y2="480.40" stroke="#000" stroke-width="1.1" />
<text transform="translate(301.61,484.10) scale(1.0700,1)" font-size="10.6" font-weight="normal" fill="#000">100</text>
<text transform="translate(325.82,612.00) scale(1.0700,1)" font-size="10.6" font-weight="normal" fill="#000">0</text>
<line x1="360.29" y1="595.50" x2="360.29" y2="599.50" stroke="#000" stroke-width="1.1" />
<text transform="translate(353.94,612.00) scale(1.0700,1)" font-size="10.6" font-weight="normal" fill="#000">25</text>
<line x1="391.58" y1="595.50" x2="391.58" y2="599.50" stroke="#000" stroke-width="1.1" />
<text transform="translate(385.26,612.00) scale(1.0700,1)" font-size="10.6" font-weight="normal" fill="#000">50</text>
<line x1="422.87" y1="595.50" x2="422.87" y2="599.50" stroke="#000" stroke-width="1.1" />
<text transform="translate(416.52,612.00) scale(1.0700,1)" font-size="10.6" font-weight="normal" fill="#000">75</text>
<line x1="454.16" y1="595.50" x2="454.16" y2="599.50" stroke="#000" stroke-width="1.1" />
<text transform="translate(444.49,612.00) scale(1.0700,1)" font-size="10.6" font-weight="normal" fill="#000">100</text>
<text transform="translate(365.18,629.20) scale(0.7291,1)" font-size="12.4" font-weight="normal" fill="#000" stroke="#000" stroke-width="0.35">Protein S (nM)</text>
<text transform="translate(294.30,590.37) rotate(-90) scale(0.8053,1)" font-size="11.2" font-weight="normal" fill="#000" stroke="#000" stroke-width="0.35">Normalised peak thrombin (%)</text>
<polyline points="329.00,480.40 330.58,481.99 332.17,483.55 333.75,485.08 335.34,486.59 336.92,488.08 338.51,489.54 340.09,490.98 341.67,492.39 343.26,493.78 344.84,495.15 346.43,496.49 348.01,497.81 349.60,499.11 351.18,500.39 352.76,501.65 354.35,502.89 355.93,504.11 357.52,505.31 359.10,506.48 360.69,507.64 362.27,508.78 363.85,509.90 365.44,511.01 367.02,512.09 368.61,513.16 370.19,514.21 371.78,515.24 373.36,516.25 374.94,517.25 376.53,518.23 378.11,519.20 379.70,520.15 381.28,521.09 382.87,522.00 384.45,522.91 386.03,523.80 387.62,524.67 389.20,525.53 390.79,526.38 392.37,527.21 393.96,528.03 395.54,528.84 397.13,529.63 398.71,530.41 400.29,531.17 401.88,531.93 403.46,532.67 405.05,533.40 406.63,534.11 408.22,534.82 409.80,535.51 411.38,536.20 412.97,536.87 414.55,537.53 416.14,538.18 417.72,538.82 419.31,539.44 420.89,540.06 422.47,540.67 424.06,541.27 425.64,541.86 427.23,542.43 428.81,543.00 430.40,543.56 431.98,544.11 433.56,544.65 435.15,545.19 436.73,545.71 438.32,546.23 439.90,546.73 441.49,547.23 443.07,547.72 444.65,548.20 446.24,548.68 447.82,549.14 449.41,549.60 450.99,550.05 452.58,550.50 454.16,550.93" fill="none" stroke="#cc1133" stroke-width="1.6" stroke-linejoin="round" />
<polyline points="329.00,480.40 330.58,491.29 332.17,500.82 333.75,509.17 335.34,516.48 336.92,522.88 338.51,528.48 340.09,533.39 341.67,537.68 343.26,541.44 344.84,544.73 346.43,547.62 348.01,550.14 349.60,552.35 351.18,554.28 352.76,555.98 354.35,557.46 355.93,558.76 357.52,559.90 359.10,560.89 360.69,561.76 362.27,562.53 363.85,563.20 365.44,563.78 367.02,564.29 368.61,564.74 370.19,565.13 371.78,565.48 373.36,565.78 374.94,566.04 376.53,566.27 378.11,566.47 379.70,566.65 381.28,566.81 382.87,566.94 384.45,567.06 386.03,567.16 387.62,567.25 389.20,567.33 390.79,567.40 392.37,567.47 393.96,567.52 395.54,567.57 397.13,567.61 398.71,567.64 400.29,567.67 401.88,567.70 403.46,567.73 405.05,567.75 406.63,567.77 408.22,567.78 409.80,567.80 411.38,567.81 412.97,567.82 414.55,567.83 416.14,567.84 417.72,567.84 419.31,567.85 420.89,567.86 422.47,567.86 424.06,567.86 425.64,567.87 427.23,567.87 428.81,567.87 430.40,567.88 431.98,567.88 433.56,567.88 435.15,567.88 436.73,567.88 438.32,567.89 439.90,567.89 441.49,567.89 443.07,567.89 444.65,567.89 446.24,567.89 447.82,567.89 449.41,567.89 450.99,567.89 452.58,567.89 454.16,567.89" fill="none" stroke="#33aa44" stroke-width="1.6" stroke-linejoin="round" />
<polyline points="329.00,480.40 330.58,488.29 332.17,495.38 333.75,501.74 335.34,507.46 336.92,512.60 338.51,517.21 340.09,521.35 341.67,525.07 343.26,528.42 344.84,531.42 346.43,534.12 348.01,536.54 349.60,538.71 351.18,540.67 352.76,542.42 354.35,544.00 355.93,545.42 357.52,546.69 359.10,547.83 360.69,548.86 362.27,549.78 363.85,550.61 365.44,551.35 367.02,552.02 368.61,552.62 370.19,553.16 371.78,553.64 373.36,554.08 374.94,554.47 376.53,554.82 378.11,555.14 379.70,555.42 381.28,555.67 382.87,555.90 384.45,556.11 386.03,556.29 387.62,556.46 389.20,556.61 390.79,556.74 392.37,556.86 393.96,556.97 395.54,557.06 397.13,557.15 398.71,557.23 400.29,557.30 401.88,557.36 403.46,557.42 405.05,557.47 406.63,557.51 408.22,557.56 409.80,557.59 411.38,557.63 412.97,557.66 414.55,557.68 416.14,557.71 417.72,557.73 419.31,557.75 420.89,557.76 422.47,557.78 424.06,557.79 425.64,557.81 427.23,557.82 428.81,557.83 430.40,557.84 431.98,557.85 433.56,557.85 435.15,557.86 436.73,557.87 438.32,557.87 439.90,557.88 441.49,557.88 443.07,557.88 444.65,557.89 446.24,557.89 447.82,557.89 449.41,557.90 450.99,557.90 452.58,557.90 454.16,557.90" fill="none" stroke="#000" stroke-width="1.6" stroke-linejoin="round" />
<polyline points="329.00,480.40 330.58,487.27 332.17,493.49 333.75,499.10 335.34,504.17 336.92,508.76 338.51,512.90 340.09,516.65 341.67,520.03 343.26,523.09 344.84,525.85 346.43,528.35 348.01,530.60 349.60,532.64 351.18,534.49 352.76,536.15 354.35,537.66 355.93,539.02 357.52,540.24 359.10,541.36 360.69,542.36 362.27,543.27 363.85,544.09 365.44,544.83 367.02,545.50 368.61,546.10 370.19,546.65 371.78,547.14 373.36,547.59 374.94,547.99 376.53,548.36 378.11,548.69 379.70,548.98 381.28,549.25 382.87,549.50 384.45,549.72 386.03,549.91 387.62,550.09 389.20,550.26 390.79,550.40 392.37,550.53 393.96,550.65 395.54,550.76 397.13,550.86 398.71,550.95 400.29,551.03 401.88,551.10 403.46,551.17 405.05,551.22 406.63,551.28 408.22,551.33 409.80,551.37 411.38,551.41 412.97,551.44 414.55,551.48 416.14,551.51 417.72,551.53 419.31,551.56 420.89,551.58 422.47,551.60 424.06,551.61 425.64,551.63 427.23,551.64 428.81,551.66 430.40,551.67 431.98,551.68 433.56,551.69 435.15,551.70 436.73,551.70 438.32,551.71 439.90,551.72 441.49,551.72 443.07,551.73 444.65,551.73 446.24,551.74 447.82,551.74 449.41,551.75 450.99,551.75 452.58,551.75 454.16,551.75" fill="none" stroke="#0a0aff" stroke-width="1.6" stroke-linejoin="round" />
<polygon points="329.00,477.10 332.30,483.04 325.70,483.04" fill="#cc1133"/>
<polygon points="344.64,492.76 347.94,498.70 341.34,498.70" fill="#cc1133"/>
<polygon points="360.29,497.67 363.59,503.61 356.99,503.61" fill="#cc1133"/>
<polygon points="391.58,524.99 394.88,530.93 388.28,530.93" fill="#cc1133"/>
<polygon points="454.16,546.94 457.46,552.88 450.86,552.88" fill="#cc1133"/>
<polygon points="329.00,483.70 332.30,477.76 325.70,477.76" fill="#33aa44"/>
<line x1="344.64" y1="542.57" x2="344.64" y2="551.01" stroke="#33aa44" stroke-width="1.2" />
<line x1="341.64" y1="542.57" x2="347.64" y2="542.57" stroke="#33aa44" stroke-width="1.2" />
<line x1="341.64" y1="551.01" x2="347.64" y2="551.01" stroke="#33aa44" stroke-width="1.2" />
<polygon points="344.64,549.70 347.94,543.76 341.34,543.76" fill="#33aa44"/>
<line x1="360.29" y1="558.68" x2="360.29" y2="564.06" stroke="#33aa44" stroke-width="1.2" />
<line x1="357.29" y1="558.68" x2="363.29" y2="558.68" stroke="#33aa44" stroke-width="1.2" />
<line x1="357.29" y1="564.06" x2="363.29" y2="564.06" stroke="#33aa44" stroke-width="1.2" />
<polygon points="360.29,564.59 363.59,558.65 356.99,558.65" fill="#33aa44"/>
<line x1="391.58" y1="555.62" x2="391.58" y2="565.75" stroke="#33aa44" stroke-width="1.2" />
<line x1="388.58" y1="555.62" x2="394.58" y2="555.62" stroke="#33aa44" stroke-width="1.2" />
<line x1="388.58" y1="565.75" x2="394.58" y2="565.75" stroke="#33aa44" stroke-width="1.2" />
<polygon points="391.58,565.05 394.88,559.12 388.28,559.12" fill="#33aa44"/>
<line x1="454.16" y1="567.59" x2="454.16" y2="584.47" stroke="#33aa44" stroke-width="1.2" />
<line x1="451.16" y1="567.59" x2="457.16" y2="567.59" stroke="#33aa44" stroke-width="1.2" />
<line x1="451.16" y1="584.47" x2="457.16" y2="584.47" stroke="#33aa44" stroke-width="1.2" />
<polygon points="454.16,578.72 457.46,572.78 450.86,572.78" fill="#33aa44"/>
<rect x="326.10" y="477.50" width="5.80" height="5.80" fill="#0a0aff"/>
<line x1="344.64" y1="524.91" x2="344.64" y2="531.05" stroke="#0a0aff" stroke-width="1.2" />
<line x1="341.64" y1="524.91" x2="347.64" y2="524.91" stroke="#0a0aff" stroke-width="1.2" />
<line x1="341.64" y1="531.05" x2="347.64" y2="531.05" stroke="#0a0aff" stroke-width="1.2" />
<rect x="341.75" y="525.09" width="5.80" height="5.80" fill="#0a0aff"/>
<line x1="360.29" y1="535.97" x2="360.29" y2="546.40" stroke="#0a0aff" stroke-width="1.2" />
<line x1="357.29" y1="535.97" x2="363.29" y2="535.97" stroke="#0a0aff" stroke-width="1.2" />
<line x1="357.29" y1="546.40" x2="363.29" y2="546.40" stroke="#0a0aff" stroke-width="1.2" />
<rect x="357.39" y="538.90" width="5.80" height="5.80" fill="#0a0aff"/>
<line x1="391.58" y1="541.65" x2="391.58" y2="552.54" stroke="#0a0aff" stroke-width="1.2" />
<line x1="388.58" y1="541.65" x2="394.58" y2="541.65" stroke="#0a0aff" stroke-width="1.2" />
<line x1="388.58" y1="552.54" x2="394.58" y2="552.54" stroke="#0a0aff" stroke-width="1.2" />
<rect x="388.68" y="544.43" width="5.80" height="5.80" fill="#0a0aff"/>
<line x1="454.16" y1="547.17" x2="454.16" y2="557.15" stroke="#0a0aff" stroke-width="1.2" />
<line x1="451.16" y1="547.17" x2="457.16" y2="547.17" stroke="#0a0aff" stroke-width="1.2" />
<line x1="451.16" y1="557.15" x2="457.16" y2="557.15" stroke="#0a0aff" stroke-width="1.2" />
<rect x="451.26" y="549.95" width="5.80" height="5.80" fill="#0a0aff"/>
<circle cx="329.00" cy="480.40" r="3.00" fill="#000"/>
<line x1="344.64" y1="527.99" x2="344.64" y2="534.12" stroke="#000" stroke-width="1.2" />
<line x1="341.64" y1="527.99" x2="347.64" y2="527.99" stroke="#000" stroke-width="1.2" />
<line x1="341.64" y1="534.12" x2="347.64" y2="534.12" stroke="#000" stroke-width="1.2" />
<circle cx="344.64" cy="530.59" r="3.00" fill="#000"/>
<line x1="360.29" y1="547.94" x2="360.29" y2="556.38" stroke="#000" stroke-width="1.2" />
<line x1="357.29" y1="547.94" x2="363.29" y2="547.94" stroke="#000" stroke-width="1.2" />
<line x1="357.29" y1="556.38" x2="363.29" y2="556.38" stroke="#000" stroke-width="1.2" />
<circle cx="360.29" cy="552.24" r="3.00" fill="#000"/>
<line x1="391.58" y1="552.54" x2="391.58" y2="561.75" stroke="#000" stroke-width="1.2" />
<line x1="388.58" y1="552.54" x2="394.58" y2="552.54" stroke="#000" stroke-width="1.2" />
<line x1="388.58" y1="561.75" x2="394.58" y2="561.75" stroke="#000" stroke-width="1.2" />
<circle cx="391.58" cy="557.76" r="3.00" fill="#000"/>
<line x1="454.16" y1="551.78" x2="454.16" y2="561.75" stroke="#000" stroke-width="1.2" />
<line x1="451.16" y1="551.78" x2="457.16" y2="551.78" stroke="#000" stroke-width="1.2" />
<line x1="451.16" y1="561.75" x2="457.16" y2="561.75" stroke="#000" stroke-width="1.2" />
<circle cx="454.16" cy="556.38" r="3.00" fill="#000"/>
<line x1="468.80" y1="469.60" x2="480.00" y2="469.60" stroke="#cc1133" stroke-width="1.3" />
<polygon points="474.40,466.80 477.20,471.84 471.59,471.84" fill="#cc1133"/>
<text transform="translate(483.87,473.10) scale(1.0433,1)" font-size="10.0" font-weight="normal" fill="#000">LG1B</text>
<line x1="468.80" y1="485.30" x2="480.00" y2="485.30" stroke="#0a0aff" stroke-width="1.3" />
<rect x="471.94" y="482.84" width="4.93" height="4.93" fill="#0a0aff"/>
<text transform="translate(483.88,488.80) scale(1.0222,1)" font-size="10.0" font-weight="normal" fill="#000">LG1A</text>
<line x1="468.80" y1="501.00" x2="480.00" y2="501.00" stroke="#000" stroke-width="1.3" />
<circle cx="474.40" cy="501.00" r="2.55" fill="#000"/>
<text transform="translate(484.65,504.50) scale(0.9935,1)" font-size="10.0" font-weight="normal" fill="#000">WT</text>
<line x1="468.80" y1="516.70" x2="480.00" y2="516.70" stroke="#33aa44" stroke-width="1.3" />
<polygon points="474.40,519.50 477.20,514.46 471.59,514.46" fill="#33aa44"/>
<text transform="translate(483.89,520.20) scale(1.0140,1)" font-size="10.0" font-weight="normal" fill="#000">LG1C</text>
<rect x="0" y="0" width="1.2" height="639" fill="#000"/>
<rect x="0" y="0" width="520" height="1.1" fill="#000"/>
<rect x="518.3" y="0" width="1.7" height="639" fill="#000"/>
<rect x="0" y="637.3" width="520" height="1.7" fill="#000"/>
</svg>
</body></html>
